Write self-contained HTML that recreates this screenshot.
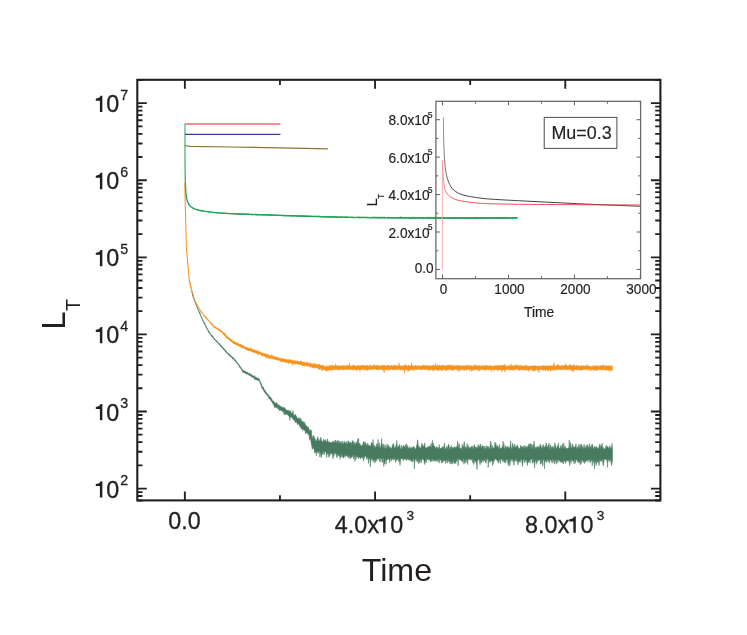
<!DOCTYPE html>
<html><head><meta charset="utf-8"><title>L_T vs Time</title>
<style>html,body{margin:0;padding:0;background:#fff;}svg{display:block;font-family:"Liberation Sans",sans-serif;}text{fill:#231f20;stroke:#231f20;stroke-width:0.3px;stroke-linejoin:round;}.sm text,text.sm{stroke-width:0.18px;}.ns text,text.ns{stroke:none;}svg{will-change:transform;opacity:0.999;}</style></head><body>
<svg width="747" height="635" viewBox="0 0 747 635">
<rect x="0" y="0" width="747" height="635" fill="#ffffff"/>
<path d="M192.6 293.3L193.0 294.7L193.5 296.9L193.9 298.0L194.4 299.1L194.8 300.5L195.3 301.7L195.7 302.7L196.2 304.0L196.6 305.1L197.1 306.5L197.5 307.7L198.0 308.4L198.4 309.5L198.9 310.7L199.3 311.7L199.8 312.2L200.2 313.6L200.7 315.1L201.1 316.1L201.6 317.2L202.0 318.0L202.5 319.2L202.9 319.8L203.4 321.1L203.8 322.0L204.3 322.3L204.7 322.9L205.2 324.3L205.6 325.2L206.1 326.3L206.5 326.4L207.0 327.9L207.4 328.4L207.9 329.5L208.3 330.3L208.8 331.0L209.2 331.5L209.7 332.7L210.1 333.5L210.6 333.6L211.0 334.6L211.5 335.0L211.9 335.4L212.4 335.5L212.8 336.6L213.3 336.8L213.7 337.7L214.2 338.1L214.6 338.7L215.1 339.0L215.5 339.7L216.0 340.2L216.4 340.6L216.9 340.5L217.3 341.4L217.8 342.1L218.2 342.5L218.7 342.9L219.1 343.4L219.6 343.5L220.0 344.1L220.5 345.0L220.9 345.1L221.4 346.1L221.8 346.1L222.3 346.8L222.7 347.2L223.2 347.8L223.6 347.9L224.1 348.8L224.5 349.1L225.0 349.7L225.4 349.9L225.9 350.7L226.3 351.2L226.8 351.8L227.2 352.3L227.7 352.7L228.1 353.1L228.6 353.7L229.0 354.0L229.5 354.1L229.9 354.8L230.4 355.3L230.8 355.5L231.3 356.1L231.7 356.2L232.2 356.8L232.6 357.0L233.1 357.6L233.5 357.7L234.0 358.4L234.4 358.8L234.9 359.5L235.3 359.8L235.8 360.3L236.2 361.3L236.7 361.7L237.1 362.1L237.6 362.7L238.0 363.4L238.5 363.9L238.9 364.7L239.4 365.1L239.8 365.7L240.3 366.7L240.7 367.0L241.2 367.7L241.6 368.5L242.1 369.2L242.5 369.5L243.0 370.2L243.4 370.8L243.9 370.5L244.3 371.1L244.8 371.0L245.2 371.4L245.7 371.6L246.1 371.8L246.6 372.0L247.0 372.0L247.5 372.5L247.9 372.5L248.4 372.9L248.8 373.3L249.3 373.5L249.7 373.5L250.2 373.6L250.6 374.5L251.1 374.8L251.5 374.4L252.0 375.2L252.4 375.3L252.9 375.7L253.3 375.9L253.8 376.3L254.2 376.5L254.7 375.5L255.1 377.1L255.6 377.0L256.0 377.5L256.5 377.6L256.9 377.9L257.4 378.1L257.8 378.3L258.3 378.4L258.7 378.4L259.2 378.7L259.6 379.9L260.1 381.2L260.5 382.3L261.0 383.0L261.4 384.1L261.9 385.8L262.3 386.7L262.8 386.9L263.2 386.8L263.7 388.3L264.1 389.6L264.6 389.7L265.0 390.4L265.5 390.9L265.9 392.1L266.4 392.7L266.8 392.9L267.3 393.8L267.7 394.2L268.2 394.5L268.6 395.3L269.1 395.6L269.5 396.4L270.0 396.7L270.4 396.9L270.9 397.5L271.3 398.7L271.8 398.8L272.2 399.7L272.7 400.8L273.1 401.0L273.6 401.3L274.0 402.1L274.5 402.2L274.9 402.9L275.4 403.1L275.8 403.5L276.3 403.1L276.7 402.5L277.2 404.6L277.6 404.3L278.1 405.1L278.5 404.7L279.0 405.8L279.4 405.1L279.9 406.4L280.3 406.5L280.8 406.1L281.2 407.0L281.7 406.7L282.1 407.8L282.6 407.3L283.0 407.6L283.5 408.1L283.9 406.9L284.4 408.1L284.8 408.0L285.3 409.1L285.7 409.3L286.2 409.8L286.6 410.3L287.1 410.3L287.5 410.6L288.0 409.8L288.4 411.2L288.9 410.9L289.3 410.3L289.8 411.9L290.2 410.9L290.7 410.7L291.1 412.9L291.6 413.0L292.0 413.5L292.5 413.6L292.9 410.5L293.4 413.7L293.8 415.2L294.3 415.4L294.7 415.0L295.2 414.3L295.6 414.7L296.1 415.7L296.5 416.5L297.0 417.8L297.4 418.2L297.9 418.2L298.3 418.6L298.8 417.7L299.2 417.8L299.7 419.6L300.1 420.4L300.6 417.7L301.0 419.4L301.5 420.2L301.9 421.2L302.4 422.4L302.8 421.2L303.3 422.1L303.7 422.9L304.2 421.7L304.6 423.7L305.1 423.3L305.5 424.8L306.0 426.1L306.4 425.8L306.9 425.9L307.3 426.8L307.8 427.6L308.2 426.9L308.7 428.6L309.1 429.7L309.6 430.6L310.0 430.3L310.5 429.6L310.9 432.2L311.4 430.3L311.8 437.6L312.3 436.0L312.7 438.6L313.2 439.0L313.6 435.4L314.1 436.1L314.5 438.5L315.0 438.0L315.4 440.5L315.9 440.9L316.3 441.1L316.8 439.8L317.2 438.9L317.7 436.8L318.1 437.9L318.6 440.8L319.0 441.3L319.5 440.7L319.9 439.2L320.4 438.8L320.8 437.2L321.3 440.6L321.7 440.7L322.2 441.8L322.6 441.5L323.1 441.4L323.5 439.3L324.0 439.7L324.4 440.1L324.9 441.7L325.3 440.8L325.8 439.5L326.2 441.4L326.7 442.3L327.1 441.8L327.6 438.8L328.0 441.1L328.5 442.0L328.9 442.5L329.4 441.6L329.8 443.0L330.3 442.4L330.7 443.1L331.2 442.0L331.6 443.2L332.1 442.5L332.5 441.9L333.0 440.8L333.4 442.3L333.9 442.4L334.3 442.8L334.8 441.1L335.2 440.0L335.7 441.7L336.1 440.7L336.6 443.4L337.0 442.4L337.5 441.8L337.9 440.0L338.4 444.1L338.8 440.9L339.3 441.7L339.7 443.6L340.2 443.1L340.6 441.5L341.1 441.3L341.5 442.8L342.0 444.5L342.4 442.7L342.9 441.1L343.3 444.1L343.8 443.9L344.2 441.7L344.7 441.6L345.1 442.7L345.6 442.9L346.0 443.8L346.5 443.7L346.9 441.0L347.4 444.3L347.8 444.0L348.3 440.7L348.7 442.2L349.2 441.8L349.6 444.3L350.1 442.3L350.5 442.8L351.0 442.0L351.4 444.6L351.9 443.3L352.3 440.5L352.8 442.7L353.2 440.8L353.7 443.4L354.1 445.0L354.6 442.5L355.0 442.4L355.5 445.6L355.9 443.4L356.4 441.7L356.8 443.3L357.3 445.0L357.7 439.1L358.2 445.3L358.6 438.1L359.1 445.7L359.5 443.3L360.0 443.5L360.4 445.4L360.9 445.2L361.3 446.4L361.8 445.3L362.2 444.9L362.7 445.7L363.1 442.8L363.6 441.6L364.0 441.7L364.5 446.0L364.9 441.8L365.4 446.0L365.8 442.9L366.3 446.9L366.7 444.6L367.2 446.5L367.6 443.1L368.1 446.9L368.5 444.8L369.0 444.9L369.4 446.8L369.9 445.3L370.3 446.8L370.8 446.2L371.2 442.7L371.7 442.7L372.1 443.2L372.6 445.7L373.0 439.5L373.5 445.5L373.9 446.4L374.4 445.0L374.8 447.9L375.3 446.6L375.7 448.0L376.2 446.4L376.6 443.6L377.1 446.6L377.5 447.4L378.0 439.4L378.4 445.2L378.9 446.2L379.3 442.9L379.8 447.9L380.2 447.8L380.7 446.6L381.1 445.2L381.6 438.5L382.0 443.5L382.5 444.2L382.9 447.0L383.4 448.4L383.8 443.8L384.3 447.7L384.7 448.5L385.2 444.9L385.6 448.7L386.1 448.6L386.5 448.5L387.0 443.9L387.4 447.7L387.9 446.9L388.3 445.2L388.8 445.0L389.2 447.5L389.7 448.3L390.1 446.7L390.6 448.1L391.0 448.3L391.5 448.3L391.9 448.0L392.4 445.0L392.8 444.2L393.3 444.0L393.7 443.6L394.2 448.0L394.6 448.7L395.1 446.9L395.5 447.8L396.0 445.1L396.4 444.5L396.9 440.4L397.3 447.6L397.8 448.0L398.2 445.9L398.7 446.0L399.1 447.3L399.6 444.1L400.0 445.8L400.5 448.8L400.9 448.9L401.4 449.0L401.8 445.0L402.3 449.0L402.7 447.0L403.2 446.8L403.6 445.2L404.1 446.7L404.5 446.5L405.0 448.1L405.4 444.3L405.9 448.6L406.3 447.3L406.8 443.8L407.2 447.7L407.7 445.7L408.1 448.6L408.6 448.2L409.0 447.7L409.5 447.1L409.9 446.6L410.4 448.8L410.8 448.2L411.3 448.7L411.7 447.2L412.2 447.9L412.6 446.9L413.1 448.6L413.5 446.7L414.0 446.3L414.4 447.9L414.9 448.3L415.3 449.1L415.8 449.1L416.2 447.6L416.7 444.9L417.1 444.6L417.6 439.8L418.0 442.3L418.5 448.1L418.9 446.4L419.4 446.6L419.8 448.1L420.3 448.3L420.7 448.3L421.2 446.4L421.6 443.6L422.1 443.2L422.5 446.0L423.0 447.3L423.4 445.5L423.9 447.4L424.3 444.2L424.8 442.9L425.2 448.6L425.7 447.8L426.1 447.5L426.6 447.9L427.0 447.6L427.5 447.3L427.9 446.6L428.4 449.2L428.8 445.9L429.3 447.3L429.7 445.8L430.2 446.8L430.6 447.8L431.1 443.3L431.5 448.8L432.0 444.6L432.4 440.3L432.9 446.5L433.3 443.4L433.8 445.4L434.2 446.3L434.7 446.1L435.1 447.2L435.6 448.2L436.0 448.5L436.5 446.4L436.9 448.2L437.4 449.3L437.8 447.0L438.3 448.7L438.7 448.9L439.2 444.5L439.6 447.5L440.1 448.8L440.5 448.0L441.0 448.5L441.4 448.8L441.9 447.3L442.3 447.1L442.8 446.7L443.2 449.1L443.7 446.4L444.1 445.5L444.6 443.0L445.0 447.8L445.5 449.4L445.9 448.9L446.4 448.1L446.8 446.3L447.3 447.2L447.7 449.4L448.2 444.3L448.6 444.3L449.1 445.8L449.5 449.5L450.0 449.4L450.4 446.8L450.9 449.1L451.3 445.5L451.8 448.2L452.2 448.8L452.7 447.3L453.1 447.9L453.6 448.4L454.0 446.5L454.5 447.8L454.9 447.0L455.4 447.5L455.8 449.0L456.3 446.2L456.7 448.6L457.2 446.9L457.6 441.0L458.1 447.9L458.5 446.6L459.0 443.4L459.4 445.8L459.9 449.1L460.3 449.0L460.8 448.0L461.2 449.4L461.7 448.4L462.1 444.3L462.6 447.7L463.0 446.3L463.5 448.5L463.9 442.7L464.4 441.7L464.8 448.8L465.3 446.6L465.7 446.9L466.2 448.6L466.6 449.1L467.1 443.6L467.5 445.8L468.0 447.7L468.4 445.6L468.9 449.0L469.3 448.4L469.8 447.0L470.2 448.4L470.7 448.2L471.1 446.7L471.6 447.6L472.0 445.8L472.5 446.8L472.9 448.5L473.4 449.2L473.8 446.2L474.3 444.6L474.7 445.8L475.2 448.7L475.6 447.0L476.1 447.2L476.5 447.3L477.0 448.9L477.4 446.7L477.9 445.8L478.3 444.5L478.8 448.1L479.2 447.3L479.7 446.0L480.1 444.5L480.6 443.9L481.0 447.7L481.5 446.6L481.9 448.6L482.4 445.3L482.8 445.9L483.3 445.9L483.7 448.6L484.2 449.1L484.6 446.4L485.1 446.0L485.5 448.9L486.0 448.5L486.4 448.5L486.9 445.6L487.3 448.6L487.8 446.3L488.2 449.2L488.7 446.6L489.1 449.0L489.6 448.9L490.0 446.3L490.5 442.4L490.9 440.9L491.4 447.9L491.8 448.9L492.3 445.1L492.7 448.7L493.2 447.4L493.6 448.2L494.1 447.8L494.5 447.8L495.0 442.1L495.4 445.7L495.9 443.2L496.3 445.9L496.8 448.1L497.2 445.2L497.7 446.5L498.1 447.2L498.6 449.0L499.0 446.5L499.5 444.5L499.9 449.0L500.4 448.4L500.8 447.8L501.3 448.4L501.7 449.1L502.2 446.2L502.6 448.5L503.1 441.1L503.5 448.8L504.0 443.7L504.4 449.4L504.9 448.1L505.3 447.5L505.8 445.8L506.2 448.4L506.7 448.2L507.1 446.0L507.6 447.5L508.0 447.2L508.5 448.1L508.9 446.8L509.4 448.9L509.8 448.2L510.3 444.5L510.7 440.8L511.2 448.4L511.6 447.9L512.1 449.2L512.5 443.3L513.0 443.8L513.4 448.1L513.9 446.5L514.3 447.5L514.8 443.9L515.2 448.2L515.7 447.3L516.1 445.7L516.6 447.4L517.0 445.5L517.5 445.4L517.9 447.1L518.4 447.4L518.8 449.0L519.3 448.8L519.7 448.3L520.2 448.8L520.6 445.1L521.1 449.1L521.5 446.1L522.0 447.0L522.4 446.7L522.9 446.9L523.3 449.4L523.8 446.4L524.2 445.2L524.7 448.0L525.1 447.2L525.6 446.5L526.0 447.8L526.5 448.5L526.9 445.8L527.4 448.4L527.8 446.5L528.3 446.4L528.7 443.9L529.2 448.8L529.6 445.2L530.1 443.5L530.5 446.4L531.0 443.7L531.4 444.3L531.9 448.8L532.3 448.8L532.8 444.9L533.2 444.2L533.7 448.5L534.1 441.0L534.6 447.9L535.0 449.1L535.5 447.2L535.9 447.2L536.4 448.1L536.8 447.2L537.3 446.1L537.7 448.6L538.2 446.4L538.6 448.7L539.1 446.9L539.5 448.7L540.0 444.1L540.4 446.7L540.9 445.3L541.3 448.1L541.8 449.1L542.2 446.7L542.7 445.9L543.1 444.3L543.6 447.3L544.0 447.3L544.5 447.0L544.9 448.1L545.4 445.0L545.8 445.5L546.3 442.8L546.7 446.7L547.2 446.7L547.6 448.2L548.1 445.2L548.5 445.7L549.0 443.1L549.4 449.3L549.9 449.1L550.3 444.8L550.8 446.1L551.2 446.9L551.7 448.5L552.1 446.8L552.6 448.7L553.0 446.0L553.5 447.6L553.9 448.5L554.4 449.0L554.8 442.8L555.3 445.6L555.7 445.2L556.2 447.9L556.6 449.0L557.1 447.5L557.5 445.7L558.0 446.6L558.4 442.8L558.9 447.6L559.3 447.9L559.8 448.9L560.2 448.6L560.7 445.5L561.1 445.6L561.6 448.9L562.0 447.2L562.5 443.8L562.9 448.2L563.4 448.2L563.8 442.8L564.3 448.9L564.7 448.4L565.2 445.8L565.6 448.3L566.1 448.1L566.5 448.1L567.0 449.3L567.4 448.3L567.9 448.4L568.3 447.7L568.8 448.5L569.2 440.1L569.7 448.4L570.1 446.4L570.6 442.4L571.0 447.4L571.5 447.6L571.9 448.6L572.4 444.1L572.8 444.1L573.3 447.2L573.7 447.3L574.2 446.7L574.6 448.4L575.1 446.5L575.5 446.3L576.0 443.7L576.4 448.6L576.9 447.9L577.3 446.6L577.8 447.9L578.2 448.3L578.7 444.7L579.1 447.2L579.6 449.2L580.0 444.0L580.5 446.9L580.9 448.1L581.4 444.0L581.8 446.8L582.3 448.9L582.7 445.9L583.2 448.9L583.6 448.4L584.1 444.3L584.5 447.3L585.0 449.3L585.4 447.5L585.9 446.5L586.3 445.1L586.8 448.5L587.2 446.0L587.7 444.5L588.1 446.9L588.6 447.4L589.0 448.5L589.5 443.4L589.9 447.6L590.4 448.1L590.8 445.9L591.3 448.9L591.8 444.4L592.2 444.5L592.7 444.5L593.1 449.1L593.6 448.7L594.0 447.6L594.5 446.6L594.9 446.1L595.4 448.8L595.8 447.6L596.3 447.0L596.7 446.5L597.2 447.5L597.6 448.3L598.1 449.0L598.5 448.8L599.0 447.1L599.4 445.4L599.9 443.8L600.3 449.1L600.8 445.6L601.2 445.3L601.7 448.1L602.1 443.2L602.6 448.7L603.0 447.4L603.5 447.7L603.9 449.0L604.4 449.0L604.8 449.1L605.3 448.5L605.7 447.1L606.2 445.3L606.6 447.0L607.1 448.0L607.5 446.5L608.0 446.3L608.4 448.9L608.9 447.8L609.3 447.4L609.8 445.5L610.2 449.3L610.7 447.2L611.1 448.5L611.6 447.4L612.0 443.3L612.5 448.7L612.5 460.2L612.0 463.3L611.6 465.5L611.1 462.8L610.7 459.4L610.2 459.5L609.8 461.8L609.3 459.5L608.9 458.9L608.4 460.7L608.0 459.7L607.5 467.5L607.1 460.0L606.6 460.2L606.2 459.1L605.7 459.7L605.3 458.9L604.8 458.9L604.4 459.0L603.9 461.4L603.5 465.2L603.0 465.7L602.6 460.0L602.1 459.0L601.7 459.7L601.2 461.7L600.8 458.8L600.3 461.3L599.9 459.1L599.4 462.4L599.0 465.8L598.5 460.4L598.1 462.0L597.6 461.3L597.2 462.7L596.7 460.0L596.3 465.4L595.8 459.7L595.4 462.3L594.9 464.0L594.5 468.9L594.0 459.5L593.6 462.5L593.1 459.4L592.7 460.4L592.2 465.8L591.8 459.4L591.3 460.6L590.8 460.2L590.4 462.8L589.9 462.3L589.5 458.7L589.0 460.0L588.6 459.6L588.1 462.0L587.7 460.5L587.2 459.3L586.8 461.1L586.3 460.3L585.9 461.8L585.4 460.2L585.0 462.8L584.5 463.6L584.1 460.0L583.6 462.5L583.2 461.3L582.7 459.3L582.3 461.0L581.8 460.3L581.4 463.4L580.9 459.1L580.5 464.9L580.0 463.5L579.6 462.6L579.1 461.2L578.7 461.0L578.2 462.8L577.8 462.6L577.3 459.4L576.9 460.4L576.4 459.0L576.0 460.3L575.5 463.2L575.1 459.7L574.6 458.8L574.2 464.1L573.7 462.0L573.3 460.8L572.8 461.2L572.4 460.4L571.9 460.6L571.5 458.6L571.0 463.5L570.6 458.6L570.1 461.1L569.7 465.6L569.2 461.5L568.8 461.5L568.3 460.2L567.9 460.3L567.4 461.3L567.0 459.7L566.5 460.8L566.1 461.2L565.6 463.5L565.2 460.9L564.7 461.5L564.3 460.7L563.8 460.0L563.4 464.1L562.9 462.1L562.5 460.9L562.0 462.7L561.6 461.1L561.1 462.4L560.7 461.2L560.2 461.7L559.8 461.1L559.3 460.7L558.9 459.7L558.4 459.1L558.0 462.9L557.5 459.6L557.1 459.4L556.6 462.3L556.2 464.2L555.7 460.4L555.3 460.4L554.8 459.2L554.4 464.2L553.9 461.3L553.5 461.6L553.0 458.7L552.6 459.6L552.1 463.3L551.7 460.0L551.2 461.3L550.8 459.3L550.3 460.2L549.9 459.6L549.4 463.2L549.0 460.0L548.5 459.4L548.1 461.9L547.6 458.9L547.2 460.4L546.7 462.4L546.3 458.8L545.8 462.0L545.4 459.6L544.9 460.1L544.5 468.8L544.0 459.9L543.6 459.8L543.1 460.0L542.7 466.2L542.2 459.5L541.8 459.8L541.3 463.7L540.9 458.7L540.4 464.3L540.0 460.3L539.5 459.3L539.1 460.3L538.6 460.8L538.2 460.5L537.7 458.9L537.3 462.3L536.8 460.8L536.4 464.3L535.9 459.3L535.5 461.3L535.0 460.7L534.6 468.0L534.1 463.5L533.7 458.7L533.2 462.2L532.8 461.0L532.3 463.3L531.9 459.1L531.4 459.0L531.0 459.6L530.5 459.3L530.1 463.2L529.6 460.6L529.2 461.2L528.7 461.6L528.3 462.6L527.8 461.8L527.4 465.6L526.9 462.7L526.5 460.4L526.0 459.2L525.6 460.9L525.1 461.1L524.7 463.0L524.2 458.7L523.8 459.0L523.3 459.9L522.9 463.0L522.4 466.6L522.0 463.1L521.5 459.1L521.1 460.1L520.6 459.3L520.2 462.3L519.7 460.8L519.3 461.3L518.8 462.4L518.4 461.2L517.9 464.9L517.5 459.9L517.0 462.1L516.6 460.3L516.1 458.7L515.7 460.4L515.2 461.2L514.8 459.2L514.3 461.4L513.9 465.6L513.4 460.5L513.0 459.7L512.5 458.7L512.1 461.8L511.6 459.3L511.2 459.5L510.7 459.1L510.3 462.6L509.8 465.9L509.4 459.7L508.9 462.2L508.5 465.6L508.0 463.6L507.6 460.3L507.1 459.6L506.7 459.6L506.2 460.6L505.8 462.8L505.3 458.6L504.9 463.0L504.4 460.7L504.0 461.8L503.5 459.3L503.1 461.4L502.6 461.5L502.2 458.9L501.7 459.1L501.3 459.9L500.8 459.2L500.4 463.5L499.9 461.1L499.5 459.1L499.0 459.0L498.6 463.3L498.1 462.5L497.7 460.4L497.2 461.2L496.8 459.4L496.3 459.9L495.9 459.1L495.4 458.7L495.0 459.6L494.5 460.8L494.1 459.4L493.6 461.7L493.2 463.8L492.7 465.5L492.3 461.8L491.8 460.4L491.4 460.6L490.9 461.0L490.5 462.5L490.0 460.3L489.6 462.0L489.1 459.4L488.7 459.4L488.2 467.6L487.8 458.8L487.3 459.1L486.9 458.8L486.4 460.7L486.0 463.3L485.5 462.4L485.1 459.3L484.6 460.0L484.2 460.7L483.7 458.6L483.3 462.1L482.8 459.3L482.4 460.8L481.9 459.2L481.5 463.0L481.0 462.3L480.6 460.0L480.1 464.8L479.7 462.9L479.2 459.3L478.8 458.7L478.3 460.3L477.9 460.4L477.4 460.6L477.0 469.6L476.5 463.2L476.1 462.5L475.6 461.1L475.2 461.3L474.7 458.9L474.3 462.1L473.8 464.6L473.4 459.8L472.9 463.0L472.5 459.8L472.0 458.8L471.6 459.2L471.1 460.4L470.7 458.9L470.2 459.3L469.8 459.9L469.3 458.9L468.9 459.0L468.4 459.0L468.0 460.0L467.5 464.5L467.1 459.6L466.6 459.6L466.2 461.4L465.7 462.9L465.3 458.8L464.8 461.3L464.4 462.6L463.9 464.3L463.5 459.1L463.0 458.6L462.6 462.4L462.1 460.3L461.7 460.9L461.2 460.9L460.8 459.3L460.3 460.2L459.9 459.0L459.4 460.1L459.0 458.8L458.5 458.7L458.1 466.0L457.6 459.1L457.2 459.0L456.7 461.3L456.3 459.9L455.8 463.6L455.4 462.0L454.9 462.8L454.5 463.9L454.0 458.8L453.6 462.4L453.1 459.5L452.7 463.7L452.2 460.5L451.8 464.3L451.3 459.9L450.9 463.6L450.4 459.5L450.0 463.6L449.5 459.7L449.1 461.6L448.6 461.7L448.2 458.5L447.7 461.4L447.3 463.2L446.8 461.0L446.4 459.2L445.9 459.7L445.5 463.7L445.0 460.7L444.6 460.1L444.1 461.0L443.7 461.5L443.2 459.4L442.8 460.6L442.3 463.2L441.9 459.4L441.4 463.0L441.0 459.4L440.5 459.9L440.1 460.4L439.6 458.5L439.2 463.2L438.7 459.9L438.3 459.6L437.8 461.9L437.4 459.1L436.9 460.0L436.5 460.2L436.0 461.7L435.6 460.6L435.1 460.6L434.7 461.1L434.2 459.2L433.8 461.3L433.3 460.1L432.9 459.1L432.4 459.2L432.0 461.8L431.5 460.8L431.1 459.2L430.6 461.2L430.2 462.1L429.7 458.4L429.3 459.0L428.8 460.4L428.4 458.5L427.9 459.0L427.5 459.8L427.0 458.4L426.6 459.0L426.1 462.9L425.7 461.2L425.2 459.8L424.8 464.6L424.3 463.0L423.9 460.2L423.4 459.6L423.0 459.9L422.5 458.3L422.1 458.4L421.6 460.9L421.2 462.5L420.7 458.8L420.3 460.3L419.8 463.3L419.4 460.4L418.9 459.1L418.5 463.6L418.0 458.3L417.6 462.1L417.1 458.9L416.7 458.7L416.2 461.5L415.8 459.8L415.3 459.5L414.9 458.5L414.4 469.0L414.0 459.3L413.5 458.4L413.1 461.3L412.6 460.1L412.2 462.2L411.7 461.3L411.3 460.1L410.8 459.2L410.4 461.1L409.9 460.6L409.5 458.8L409.0 459.5L408.6 460.1L408.1 458.6L407.7 459.6L407.2 458.3L406.8 460.6L406.3 458.9L405.9 458.8L405.4 458.7L405.0 459.8L404.5 458.5L404.1 459.1L403.6 460.0L403.2 460.8L402.7 458.1L402.3 458.9L401.8 458.7L401.4 458.5L400.9 458.7L400.5 459.7L400.0 465.4L399.6 460.1L399.1 461.9L398.7 461.0L398.2 458.1L397.8 459.2L397.3 459.5L396.9 460.4L396.4 459.7L396.0 459.8L395.5 462.7L395.1 458.1L394.6 459.0L394.2 459.3L393.7 460.3L393.3 458.1L392.8 458.5L392.4 459.5L391.9 458.5L391.5 460.4L391.0 460.9L390.6 458.1L390.1 458.1L389.7 463.0L389.2 459.4L388.8 459.3L388.3 458.4L387.9 459.9L387.4 458.2L387.0 459.9L386.5 458.4L386.1 464.4L385.6 459.0L385.2 460.0L384.7 463.9L384.3 462.3L383.8 466.5L383.4 458.2L382.9 457.9L382.5 462.6L382.0 462.0L381.6 459.2L381.1 458.4L380.7 457.7L380.2 462.1L379.8 461.8L379.3 457.5L378.9 458.8L378.4 459.4L378.0 457.2L377.5 459.4L377.1 457.9L376.6 460.3L376.2 461.2L375.7 461.6L375.3 459.5L374.8 463.0L374.4 458.5L373.9 460.5L373.5 459.3L373.0 461.8L372.6 456.7L372.1 460.0L371.7 459.0L371.2 457.2L370.8 461.3L370.3 466.9L369.9 457.7L369.4 458.8L369.0 457.6L368.5 463.5L368.1 457.2L367.6 457.1L367.2 459.0L366.7 459.5L366.3 456.9L365.8 456.5L365.4 456.2L364.9 456.3L364.5 456.5L364.0 459.3L363.6 461.3L363.1 456.9L362.7 458.3L362.2 456.4L361.8 457.7L361.3 456.2L360.9 458.1L360.4 458.9L360.0 457.4L359.5 457.1L359.1 457.0L358.6 458.8L358.2 457.3L357.7 455.5L357.3 457.5L356.8 456.7L356.4 455.8L355.9 459.5L355.5 455.4L355.0 461.5L354.6 455.5L354.1 455.1L353.7 459.2L353.2 455.0L352.8 454.9L352.3 457.0L351.9 456.9L351.4 457.6L351.0 457.4L350.5 456.8L350.1 459.1L349.6 455.9L349.2 455.5L348.7 458.2L348.3 456.0L347.8 456.3L347.4 457.0L346.9 454.1L346.5 455.4L346.0 456.1L345.6 454.3L345.1 456.8L344.7 454.4L344.2 457.0L343.8 458.3L343.3 457.9L342.9 455.5L342.4 457.2L342.0 454.8L341.5 453.9L341.1 457.1L340.6 454.7L340.2 459.3L339.7 453.2L339.3 456.9L338.8 455.2L338.4 455.7L337.9 455.1L337.5 453.5L337.0 457.7L336.6 456.9L336.1 454.1L335.7 454.3L335.2 452.6L334.8 453.1L334.3 453.4L333.9 456.5L333.4 452.6L333.0 458.9L332.5 455.1L332.1 453.4L331.6 453.8L331.2 452.7L330.7 453.6L330.3 453.3L329.8 456.3L329.4 453.1L328.9 457.4L328.5 453.8L328.0 453.4L327.6 453.8L327.1 454.4L326.7 457.6L326.2 454.1L325.8 451.3L325.3 451.2L324.9 452.0L324.4 454.3L324.0 451.5L323.5 451.6L323.1 454.8L322.6 454.7L322.2 451.8L321.7 453.9L321.3 457.5L320.8 452.5L320.4 453.9L319.9 457.3L319.5 451.4L319.0 450.6L318.6 453.5L318.1 451.6L317.7 450.9L317.2 452.7L316.8 451.3L316.3 455.8L315.9 449.9L315.4 452.8L315.0 449.7L314.5 453.0L314.1 449.2L313.6 448.6L313.2 447.6L312.7 447.5L312.3 449.4L311.8 446.7L311.4 444.4L310.9 441.1L310.5 438.9L310.0 437.4L309.6 440.3L309.1 435.8L308.7 434.6L308.2 434.7L307.8 433.5L307.3 433.3L306.9 433.0L306.4 432.5L306.0 433.0L305.5 434.0L305.1 430.0L304.6 430.5L304.2 430.3L303.7 429.4L303.3 430.1L302.8 430.3L302.4 429.4L301.9 427.9L301.5 428.7L301.0 428.8L300.6 425.6L300.1 427.4L299.7 424.8L299.2 425.7L298.8 424.2L298.3 423.6L297.9 424.3L297.4 424.7L297.0 422.3L296.5 422.4L296.1 421.9L295.6 421.5L295.2 423.1L294.7 420.3L294.3 420.4L293.8 420.2L293.4 419.9L292.9 418.7L292.5 418.3L292.0 418.0L291.6 417.4L291.1 417.3L290.7 416.9L290.2 417.3L289.8 420.4L289.3 416.8L288.9 415.6L288.4 416.1L288.0 415.2L287.5 414.5L287.1 414.8L286.6 413.8L286.2 414.1L285.7 413.6L285.3 415.1L284.8 413.9L284.4 414.5L283.9 413.6L283.5 411.6L283.0 411.3L282.6 411.4L282.1 411.3L281.7 410.7L281.2 410.5L280.8 410.6L280.3 410.4L279.9 409.5L279.4 410.8L279.0 409.0L278.5 409.1L278.1 408.7L277.6 408.6L277.2 407.8L276.7 406.9L276.3 407.2L275.8 407.9L275.4 407.2L274.9 406.3L274.5 407.5L274.0 405.7L273.6 404.3L273.1 404.6L272.7 403.2L272.2 402.7L271.8 401.8L271.3 401.2L270.9 400.7L270.4 399.6L270.0 399.3L269.5 398.8L269.1 398.9L268.6 397.5L268.2 396.6L267.7 396.3L267.3 395.5L266.8 395.0L266.4 394.4L265.9 394.1L265.5 393.3L265.0 393.1L264.6 392.0L264.1 391.7L263.7 390.7L263.2 389.9L262.8 389.3L262.3 388.5L261.9 388.4L261.4 386.6L261.0 385.4L260.5 384.3L260.1 383.0L259.6 381.6L259.2 380.9L258.7 380.8L258.3 380.3L257.8 380.1L257.4 380.5L256.9 379.7L256.5 379.7L256.0 380.1L255.6 379.1L255.1 380.2L254.7 378.5L254.2 378.6L253.8 378.2L253.3 377.6L252.9 377.3L252.4 377.2L252.0 377.1L251.5 377.1L251.1 376.2L250.6 376.1L250.2 375.6L249.7 375.7L249.3 375.1L248.8 375.3L248.4 374.6L247.9 374.3L247.5 374.2L247.0 373.8L246.6 374.1L246.1 373.8L245.7 373.2L245.2 373.5L244.8 372.7L244.3 373.0L243.9 372.4L243.4 372.4L243.0 372.8L242.5 371.5L242.1 370.7L241.6 370.1L241.2 369.1L240.7 368.7L240.3 367.7L239.8 367.7L239.4 366.7L238.9 366.0L238.5 365.3L238.0 364.7L237.6 364.2L237.1 363.5L236.7 363.1L236.2 362.5L235.8 362.0L235.3 361.3L234.9 360.9L234.4 360.0L234.0 359.7L233.5 359.4L233.1 358.7L232.6 359.0L232.2 358.3L231.7 357.5L231.3 357.2L230.8 356.7L230.4 357.0L229.9 355.8L229.5 356.1L229.0 355.2L228.6 354.7L228.1 354.8L227.7 353.7L227.2 353.3L226.8 353.4L226.3 352.5L225.9 352.0L225.4 351.8L225.0 351.2L224.5 350.5L224.1 350.1L223.6 349.6L223.2 349.4L222.7 348.5L222.3 348.1L221.8 347.6L221.4 347.1L220.9 346.6L220.5 346.3L220.0 345.5L219.6 345.1L219.1 344.7L218.7 344.1L218.2 343.6L217.8 343.2L217.3 342.7L216.9 342.1L216.4 341.8L216.0 341.2L215.5 340.7L215.1 340.3L214.6 339.8L214.2 339.5L213.7 338.7L213.3 338.3L212.8 337.7L212.4 337.0L211.9 337.1L211.5 336.0L211.0 335.6L210.6 334.9L210.1 334.6L209.7 333.7L209.2 332.9L208.8 332.4L208.3 332.3L207.9 330.4L207.4 330.0L207.0 329.0L206.5 328.2L206.1 327.4L205.6 326.6L205.2 325.8L204.7 324.8L204.3 324.0L203.8 322.9L203.4 322.1L202.9 321.5L202.5 320.3L202.0 319.2L201.6 318.3L201.1 317.1L200.7 316.0L200.2 314.9L199.8 313.9L199.3 312.9L198.9 311.8L198.4 310.7L198.0 309.8L197.5 308.7L197.1 307.7L196.6 306.2L196.2 305.2L195.7 304.0L195.3 302.7L194.8 301.5L194.4 300.8L193.9 299.1L193.5 297.8L193.0 296.4L192.6 294.3Z" fill="#477a5f" stroke="#477a5f" stroke-width="0.5" stroke-linejoin="round"/>
<path d="M191.6 291L193.4 297.1" fill="none" stroke="#477a5f" stroke-width="0.9"/>
<path d="M190.0 282.5L190.5 284.2L191.0 286.3L191.5 288.5L192.0 290.2L192.5 292.4L193.0 294.2L193.5 296.4L194.0 298.5L194.5 299.6L195.0 300.6L195.5 301.4L196.0 302.2L196.5 303.2L197.0 303.9L197.5 305.0L198.0 306.0L198.5 306.9L199.0 307.5L199.5 308.3L200.0 309.5L200.5 310.1L201.0 310.6L201.5 311.5L202.0 311.7L202.5 312.8L203.0 313.4L203.5 314.3L204.0 314.9L204.5 315.5L205.0 315.6L205.5 316.6L206.0 317.0L206.5 317.4L207.0 318.0L207.5 318.7L208.0 319.2L208.5 319.8L209.0 320.4L209.5 320.7L210.0 321.4L210.5 321.9L211.0 322.6L211.5 323.1L212.0 323.3L212.5 324.1L213.0 325.0L213.5 325.6L214.0 326.1L214.5 326.2L215.0 326.6L215.5 327.0L216.0 326.8L216.5 327.4L217.0 327.9L217.5 327.9L218.0 328.5L218.5 328.8L219.0 329.2L219.5 329.2L220.0 329.8L220.5 329.9L221.0 330.0L221.5 330.9L222.0 331.2L222.5 331.9L223.0 332.4L223.5 332.9L224.0 332.8L224.5 333.8L225.0 332.9L225.5 334.6L226.0 335.0L226.5 335.6L227.0 336.1L227.5 336.8L228.0 337.3L228.5 337.2L229.0 338.1L229.5 338.1L230.0 338.6L230.5 338.9L231.0 339.0L231.5 340.0L232.0 340.1L232.5 340.6L233.0 341.0L233.5 341.4L234.0 340.8L234.5 341.5L235.0 342.2L235.5 342.4L236.0 342.0L236.5 342.6L237.0 342.4L237.5 343.1L238.0 343.4L238.5 343.5L239.0 343.9L239.5 344.2L240.0 344.3L240.5 343.7L241.0 344.3L241.5 345.0L242.0 345.4L242.5 345.6L243.0 345.1L243.5 346.1L244.0 346.3L244.5 346.8L245.0 346.8L245.5 347.1L246.0 347.3L246.5 347.1L247.0 347.8L247.5 347.4L248.0 348.0L248.5 348.1L249.0 348.2L249.5 348.6L250.0 348.6L250.5 348.7L251.0 347.2L251.5 349.1L252.0 349.2L252.5 349.6L253.0 349.4L253.5 349.8L254.0 349.2L254.5 349.4L255.0 350.0L255.5 350.5L256.0 350.4L256.5 350.8L257.0 351.0L257.5 350.2L258.0 350.8L258.5 351.4L259.0 351.8L259.5 351.8L260.0 352.0L260.5 352.2L261.0 351.6L261.5 352.7L262.0 352.9L262.5 353.0L263.0 352.6L263.5 353.3L264.0 353.4L264.5 353.8L265.0 353.4L265.5 354.1L266.0 353.9L266.5 353.6L267.0 354.1L267.5 354.5L268.0 354.9L268.5 354.5L269.0 354.8L269.5 355.4L270.0 355.6L270.5 355.7L271.0 355.9L271.5 354.4L272.0 355.9L272.5 356.2L273.0 354.9L273.5 356.6L274.0 356.3L274.5 356.7L275.0 356.4L275.5 357.0L276.0 356.8L276.5 357.3L277.0 356.8L277.5 357.1L278.0 357.7L278.5 357.9L279.0 358.1L279.5 357.8L280.0 358.3L280.5 358.3L281.0 357.9L281.5 358.8L282.0 358.9L282.5 359.1L283.0 358.1L283.5 359.1L284.0 358.8L284.5 358.9L285.0 359.1L285.5 359.7L286.0 358.8L286.5 359.7L287.0 359.8L287.5 359.4L288.0 359.8L288.5 358.9L289.0 360.2L289.5 360.0L290.0 360.1L290.5 360.2L291.0 359.2L291.5 360.4L292.0 360.3L292.5 360.3L293.0 360.2L293.5 360.9L294.0 360.5L294.5 360.6L295.0 360.4L295.5 361.0L296.0 361.0L296.5 361.4L297.0 360.9L297.5 360.2L298.0 361.4L298.5 361.7L299.0 361.2L299.5 361.7L300.0 360.9L300.5 361.6L301.0 360.9L301.5 361.0L302.0 362.2L302.5 361.6L303.0 362.2L303.5 362.3L304.0 361.8L304.5 362.0L305.0 362.6L305.5 362.7L306.0 362.9L306.5 362.4L307.0 361.8L307.5 362.0L308.0 363.0L308.5 363.4L309.0 363.4L309.5 363.2L310.0 362.1L310.5 363.5L311.0 363.6L311.5 363.7L312.0 363.7L312.5 363.9L313.0 364.2L313.5 363.6L314.0 363.4L314.5 363.4L315.0 364.6L315.5 363.6L316.0 364.7L316.5 364.1L317.0 364.9L317.5 364.3L318.0 364.5L318.5 364.1L319.0 365.0L319.5 364.3L320.0 364.5L320.5 365.4L321.0 365.6L321.5 365.1L322.0 366.2L322.5 364.8L323.0 364.9L323.5 365.3L324.0 366.6L324.5 366.4L325.0 366.5L325.5 366.4L326.0 367.1L326.5 365.8L327.0 365.3L327.5 366.9L328.0 366.7L328.5 366.6L329.0 365.3L329.5 366.3L330.0 365.1L330.5 366.3L331.0 365.9L331.5 365.5L332.0 365.1L332.5 364.7L333.0 366.2L333.5 365.7L334.0 365.3L334.5 366.0L335.0 365.9L335.5 363.8L336.0 365.6L336.5 365.8L337.0 365.7L337.5 365.2L338.0 366.1L338.5 366.1L339.0 366.2L339.5 365.5L340.0 365.8L340.5 365.8L341.0 366.0L341.5 365.8L342.0 365.8L342.5 365.9L343.0 365.5L343.5 365.3L344.0 366.1L344.5 365.8L345.0 366.1L345.5 366.1L346.0 365.9L346.5 365.2L347.0 365.3L347.5 365.4L348.0 365.7L348.5 364.9L349.0 365.8L349.5 362.6L350.0 365.7L350.5 366.1L351.0 366.0L351.5 365.8L352.0 365.9L352.5 365.6L353.0 365.2L353.5 365.0L354.0 365.1L354.5 365.9L355.0 365.5L355.5 366.0L356.0 365.9L356.5 366.0L357.0 366.2L357.5 366.0L358.0 364.9L358.5 365.8L359.0 366.1L359.5 365.5L360.0 366.2L360.5 365.0L361.0 366.1L361.5 366.1L362.0 365.0L362.5 365.6L363.0 365.7L363.5 364.8L364.0 365.6L364.5 365.9L365.0 365.4L365.5 366.1L366.0 365.6L366.5 365.0L367.0 365.7L367.5 365.3L368.0 365.5L368.5 366.0L369.0 365.9L369.5 365.8L370.0 364.8L370.5 366.1L371.0 365.8L371.5 365.7L372.0 365.7L372.5 365.9L373.0 365.9L373.5 365.4L374.0 364.0L374.5 365.5L375.0 365.7L375.5 365.6L376.0 365.9L376.5 365.9L377.0 364.5L377.5 365.6L378.0 365.7L378.5 365.8L379.0 365.1L379.5 365.7L380.0 366.0L380.5 365.9L381.0 365.8L381.5 365.8L382.0 365.2L382.5 364.8L383.0 365.7L383.5 366.0L384.0 365.0L384.5 365.6L385.0 364.9L385.5 365.9L386.0 365.5L386.5 365.9L387.0 365.9L387.5 365.4L388.0 364.9L388.5 364.7L389.0 365.9L389.5 366.0L390.0 366.0L390.5 366.0L391.0 365.5L391.5 364.9L392.0 365.9L392.5 365.8L393.0 365.5L393.5 365.8L394.0 365.7L394.5 365.5L395.0 364.8L395.5 365.2L396.0 366.1L396.5 365.6L397.0 365.7L397.5 365.8L398.0 365.9L398.5 365.9L399.0 362.6L399.5 364.9L400.0 366.0L400.5 366.1L401.0 366.0L401.5 365.7L402.0 365.4L402.5 365.7L403.0 366.2L403.5 365.9L404.0 365.5L404.5 365.8L405.0 364.7L405.5 364.5L406.0 365.0L406.5 365.9L407.0 365.7L407.5 366.2L408.0 365.2L408.5 365.2L409.0 365.9L409.5 365.5L410.0 365.8L410.5 365.9L411.0 364.9L411.5 362.9L412.0 365.9L412.5 365.6L413.0 365.6L413.5 365.8L414.0 366.2L414.5 365.9L415.0 366.2L415.5 364.7L416.0 366.1L416.5 365.9L417.0 365.9L417.5 365.5L418.0 365.8L418.5 365.8L419.0 365.9L419.5 366.1L420.0 365.5L420.5 366.0L421.0 366.1L421.5 365.7L422.0 366.1L422.5 365.7L423.0 365.0L423.5 365.8L424.0 364.4L424.5 365.9L425.0 365.9L425.5 366.0L426.0 365.1L426.5 365.6L427.0 365.8L427.5 365.6L428.0 365.8L428.5 365.5L429.0 365.4L429.5 366.2L430.0 365.8L430.5 366.0L431.0 365.6L431.5 365.8L432.0 365.6L432.5 365.5L433.0 366.2L433.5 364.7L434.0 366.0L434.5 365.5L435.0 365.5L435.5 363.5L436.0 365.9L436.5 365.7L437.0 366.0L437.5 364.8L438.0 365.5L438.5 365.7L439.0 365.3L439.5 365.0L440.0 365.2L440.5 366.0L441.0 365.3L441.5 366.0L442.0 366.1L442.5 364.6L443.0 366.1L443.5 365.5L444.0 365.8L444.5 366.2L445.0 365.0L445.5 365.7L446.0 366.2L446.5 365.6L447.0 366.1L447.5 365.0L448.0 364.8L448.5 365.0L449.0 365.6L449.5 365.8L450.0 364.7L450.5 365.4L451.0 365.2L451.5 365.1L452.0 366.1L452.5 366.1L453.0 366.0L453.5 364.6L454.0 366.3L454.5 366.1L455.0 366.2L455.5 365.9L456.0 364.6L456.5 366.1L457.0 365.9L457.5 365.4L458.0 365.0L458.5 366.1L459.0 365.3L459.5 365.4L460.0 365.7L460.5 366.3L461.0 365.9L461.5 365.3L462.0 365.8L462.5 366.1L463.0 366.0L463.5 365.3L464.0 365.5L464.5 365.6L465.0 366.0L465.5 365.8L466.0 366.3L466.5 365.6L467.0 364.7L467.5 365.9L468.0 365.0L468.5 365.4L469.0 365.7L469.5 366.2L470.0 365.7L470.5 364.9L471.0 365.9L471.5 365.8L472.0 366.0L472.5 366.3L473.0 365.9L473.5 366.2L474.0 364.9L474.5 366.1L475.0 364.2L475.5 365.9L476.0 365.5L476.5 365.5L477.0 366.3L477.5 366.0L478.0 365.4L478.5 365.7L479.0 366.0L479.5 364.9L480.0 365.9L480.5 366.1L481.0 366.2L481.5 365.9L482.0 365.2L482.5 365.8L483.0 365.5L483.5 366.2L484.0 366.0L484.5 365.0L485.0 366.2L485.5 365.3L486.0 366.1L486.5 365.0L487.0 365.7L487.5 365.8L488.0 366.1L488.5 366.1L489.0 365.6L489.5 366.3L490.0 365.8L490.5 365.0L491.0 366.0L491.5 366.2L492.0 366.1L492.5 366.3L493.0 366.2L493.5 366.1L494.0 366.0L494.5 365.4L495.0 365.7L495.5 366.1L496.0 365.2L496.5 366.0L497.0 366.0L497.5 365.2L498.0 365.8L498.5 365.4L499.0 366.1L499.5 365.9L500.0 364.7L500.5 366.0L501.0 366.3L501.5 365.3L502.0 366.0L502.5 365.3L503.0 364.9L503.5 365.6L504.0 364.5L504.5 364.0L505.0 365.2L505.5 366.3L506.0 366.3L506.5 365.8L507.0 366.3L507.5 366.0L508.0 366.3L508.5 365.9L509.0 365.3L509.5 366.3L510.0 365.6L510.5 366.3L511.0 363.6L511.5 365.5L512.0 366.0L512.5 365.2L513.0 365.7L513.5 366.3L514.0 365.6L514.5 365.4L515.0 365.1L515.5 365.6L516.0 365.9L516.5 364.3L517.0 365.4L517.5 364.8L518.0 365.7L518.5 366.1L519.0 366.1L519.5 365.9L520.0 364.5L520.5 366.2L521.0 366.0L521.5 365.4L522.0 365.8L522.5 366.0L523.0 366.0L523.5 366.2L524.0 365.9L524.5 365.6L525.0 365.9L525.5 365.6L526.0 366.2L526.5 364.8L527.0 366.0L527.5 366.3L528.0 366.1L528.5 366.4L529.0 365.9L529.5 365.6L530.0 366.2L530.5 366.3L531.0 365.8L531.5 365.7L532.0 366.2L532.5 365.9L533.0 365.9L533.5 365.9L534.0 365.1L534.5 366.3L535.0 365.4L535.5 365.9L536.0 366.1L536.5 366.2L537.0 366.1L537.5 365.8L538.0 365.7L538.5 366.3L539.0 366.2L539.5 365.7L540.0 366.3L540.5 366.3L541.0 366.0L541.5 366.1L542.0 365.7L542.5 366.3L543.0 365.2L543.5 366.2L544.0 365.1L544.5 366.0L545.0 365.9L545.5 366.3L546.0 365.6L546.5 366.0L547.0 365.9L547.5 365.5L548.0 366.2L548.5 366.0L549.0 365.4L549.5 366.1L550.0 365.7L550.5 365.8L551.0 366.3L551.5 365.9L552.0 365.7L552.5 366.2L553.0 365.0L553.5 366.1L554.0 362.4L554.5 364.9L555.0 366.1L555.5 366.3L556.0 365.8L556.5 364.9L557.0 365.8L557.5 364.5L558.0 366.1L558.5 364.4L559.0 365.7L559.5 365.8L560.0 365.9L560.5 366.2L561.0 365.6L561.5 365.4L562.0 365.9L562.5 365.2L563.0 366.1L563.5 365.8L564.0 365.4L564.5 365.2L565.0 365.8L565.5 363.6L566.0 365.7L566.5 364.9L567.0 365.6L567.5 365.7L568.0 366.2L568.5 366.2L569.0 365.0L569.5 364.7L570.0 364.2L570.5 366.0L571.0 364.7L571.5 365.4L572.0 365.5L572.5 366.3L573.0 365.4L573.5 364.8L574.0 364.6L574.5 366.3L575.0 365.7L575.5 366.0L576.0 366.3L576.5 364.8L577.0 366.1L577.5 366.4L578.0 365.8L578.5 364.9L579.0 366.2L579.5 366.4L580.0 365.7L580.5 366.2L581.0 366.1L581.5 365.2L582.0 365.5L582.5 365.9L583.0 365.7L583.5 365.8L584.0 366.2L584.5 366.3L585.0 365.6L585.5 364.9L586.0 366.3L586.5 366.0L587.0 366.3L587.5 364.5L588.0 365.6L588.5 365.9L589.0 366.1L589.5 365.9L590.0 366.4L590.5 366.3L591.0 366.2L591.5 366.4L592.0 366.2L592.5 365.5L593.0 366.4L593.5 366.0L594.0 366.4L594.5 366.1L595.0 365.3L595.5 366.1L596.0 366.3L596.5 365.5L597.0 366.2L597.5 366.1L598.0 365.5L598.5 366.4L599.0 366.2L599.5 366.3L600.0 365.5L600.5 366.1L601.0 365.0L601.5 365.9L602.0 366.1L602.5 365.5L603.0 365.6L603.5 364.3L604.0 366.2L604.5 366.2L605.0 366.1L605.5 365.4L606.0 365.3L606.5 366.3L607.0 365.7L607.5 366.2L608.0 365.5L608.5 366.3L609.0 365.5L609.5 366.4L610.0 365.7L610.5 365.2L611.0 366.2L611.5 366.4L612.0 366.3L612.5 365.6L612.5 369.4L612.0 370.7L611.5 369.9L611.0 370.4L610.5 371.3L610.0 369.6L609.5 370.4L609.0 369.8L608.5 370.6L608.0 370.6L607.5 369.8L607.0 370.4L606.5 370.4L606.0 370.1L605.5 369.8L605.0 370.0L604.5 369.7L604.0 369.5L603.5 369.5L603.0 370.1L602.5 369.3L602.0 370.7L601.5 369.3L601.0 369.5L600.5 370.0L600.0 369.7L599.5 370.0L599.0 369.6L598.5 369.3L598.0 369.8L597.5 370.2L597.0 369.9L596.5 370.6L596.0 370.3L595.5 370.5L595.0 369.7L594.5 369.5L594.0 370.3L593.5 370.9L593.0 370.0L592.5 369.3L592.0 369.3L591.5 369.9L591.0 371.1L590.5 370.7L590.0 369.3L589.5 369.4L589.0 369.3L588.5 370.6L588.0 369.3L587.5 370.2L587.0 369.3L586.5 369.8L586.0 369.5L585.5 370.1L585.0 369.4L584.5 369.6L584.0 369.3L583.5 369.3L583.0 370.0L582.5 369.9L582.0 369.5L581.5 370.8L581.0 370.1L580.5 370.0L580.0 369.6L579.5 370.5L579.0 369.8L578.5 369.8L578.0 369.8L577.5 370.2L577.0 369.9L576.5 369.8L576.0 369.8L575.5 370.0L575.0 369.3L574.5 369.6L574.0 370.4L573.5 369.7L573.0 372.3L572.5 369.7L572.0 370.1L571.5 370.7L571.0 370.7L570.5 370.0L570.0 369.5L569.5 369.6L569.0 369.3L568.5 370.0L568.0 369.6L567.5 370.0L567.0 369.4L566.5 369.8L566.0 369.6L565.5 369.4L565.0 369.7L564.5 369.6L564.0 369.5L563.5 369.7L563.0 369.5L562.5 369.3L562.0 369.3L561.5 370.5L561.0 369.5L560.5 370.1L560.0 369.6L559.5 369.4L559.0 369.8L558.5 370.3L558.0 369.5L557.5 369.6L557.0 369.5L556.5 370.1L556.0 369.6L555.5 369.5L555.0 370.7L554.5 369.4L554.0 369.6L553.5 370.0L553.0 369.4L552.5 370.4L552.0 369.8L551.5 370.1L551.0 369.7L550.5 371.5L550.0 370.2L549.5 369.4L549.0 369.4L548.5 371.4L548.0 370.9L547.5 370.3L547.0 369.7L546.5 369.8L546.0 370.5L545.5 370.5L545.0 370.8L544.5 369.3L544.0 370.2L543.5 370.2L543.0 370.6L542.5 369.6L542.0 369.9L541.5 369.6L541.0 369.5L540.5 369.6L540.0 369.7L539.5 369.3L539.0 372.8L538.5 370.2L538.0 370.7L537.5 370.2L537.0 370.0L536.5 369.3L536.0 369.8L535.5 370.6L535.0 370.5L534.5 370.8L534.0 371.7L533.5 370.2L533.0 369.4L532.5 370.8L532.0 369.9L531.5 369.5L531.0 369.5L530.5 369.3L530.0 369.7L529.5 370.2L529.0 369.7L528.5 371.4L528.0 370.9L527.5 370.0L527.0 369.6L526.5 369.9L526.0 370.6L525.5 369.8L525.0 369.4L524.5 370.3L524.0 370.2L523.5 369.9L523.0 370.0L522.5 369.6L522.0 369.5L521.5 369.7L521.0 370.3L520.5 369.4L520.0 370.5L519.5 370.7L519.0 370.1L518.5 369.7L518.0 369.4L517.5 369.4L517.0 369.6L516.5 369.3L516.0 369.8L515.5 369.6L515.0 369.3L514.5 369.8L514.0 370.3L513.5 369.6L513.0 370.5L512.5 370.0L512.0 370.4L511.5 370.1L511.0 369.8L510.5 369.4L510.0 369.8L509.5 370.1L509.0 370.4L508.5 369.2L508.0 369.4L507.5 369.2L507.0 369.2L506.5 370.1L506.0 369.7L505.5 369.4L505.0 372.2L504.5 370.3L504.0 369.9L503.5 370.1L503.0 370.1L502.5 370.1L502.0 372.1L501.5 370.0L501.0 370.3L500.5 369.3L500.0 369.6L499.5 369.9L499.0 370.5L498.5 369.8L498.0 370.0L497.5 370.3L497.0 370.2L496.5 369.8L496.0 369.5L495.5 369.4L495.0 369.3L494.5 370.7L494.0 370.1L493.5 369.7L493.0 369.6L492.5 369.3L492.0 371.9L491.5 369.2L491.0 370.1L490.5 370.4L490.0 369.5L489.5 369.6L489.0 370.2L488.5 369.8L488.0 370.1L487.5 369.8L487.0 369.2L486.5 369.5L486.0 370.2L485.5 370.1L485.0 370.5L484.5 369.8L484.0 370.4L483.5 369.8L483.0 369.3L482.5 369.6L482.0 369.4L481.5 369.8L481.0 369.9L480.5 369.6L480.0 369.6L479.5 371.4L479.0 369.8L478.5 370.2L478.0 369.7L477.5 370.8L477.0 369.4L476.5 369.2L476.0 369.4L475.5 369.4L475.0 369.9L474.5 369.4L474.0 370.4L473.5 369.9L473.0 370.4L472.5 370.1L472.0 369.9L471.5 371.7L471.0 369.3L470.5 370.1L470.0 369.2L469.5 370.9L469.0 369.6L468.5 369.2L468.0 369.2L467.5 369.6L467.0 370.0L466.5 370.0L466.0 369.7L465.5 369.7L465.0 370.5L464.5 369.3L464.0 370.5L463.5 369.8L463.0 369.5L462.5 369.6L462.0 369.5L461.5 370.1L461.0 369.5L460.5 370.1L460.0 370.6L459.5 370.7L459.0 370.3L458.5 369.5L458.0 371.7L457.5 370.3L457.0 369.4L456.5 369.5L456.0 369.7L455.5 369.3L455.0 369.2L454.5 369.6L454.0 370.1L453.5 370.2L453.0 370.1L452.5 369.7L452.0 370.9L451.5 370.2L451.0 369.4L450.5 369.3L450.0 369.9L449.5 369.6L449.0 369.5L448.5 369.9L448.0 369.6L447.5 370.1L447.0 370.5L446.5 369.8L446.0 370.2L445.5 370.9L445.0 369.8L444.5 369.2L444.0 370.1L443.5 369.2L443.0 370.2L442.5 370.2L442.0 370.5L441.5 370.2L441.0 370.8L440.5 369.4L440.0 370.1L439.5 369.5L439.0 370.7L438.5 370.2L438.0 370.7L437.5 370.2L437.0 370.1L436.5 369.3L436.0 370.1L435.5 370.2L435.0 369.3L434.5 369.6L434.0 369.7L433.5 371.5L433.0 369.2L432.5 370.5L432.0 370.2L431.5 369.4L431.0 370.1L430.5 369.8L430.0 369.6L429.5 370.4L429.0 369.2L428.5 370.9L428.0 369.8L427.5 369.5L427.0 369.3L426.5 369.7L426.0 369.4L425.5 369.7L425.0 370.0L424.5 369.5L424.0 369.2L423.5 369.5L423.0 369.2L422.5 369.1L422.0 370.2L421.5 369.4L421.0 369.7L420.5 369.3L420.0 369.4L419.5 369.3L419.0 369.8L418.5 369.4L418.0 369.2L417.5 369.2L417.0 369.3L416.5 370.1L416.0 369.2L415.5 369.7L415.0 369.6L414.5 369.5L414.0 370.8L413.5 370.1L413.0 369.7L412.5 369.8L412.0 369.8L411.5 369.9L411.0 369.5L410.5 369.7L410.0 370.0L409.5 371.0L409.0 370.3L408.5 370.2L408.0 371.8L407.5 370.1L407.0 369.9L406.5 369.8L406.0 369.6L405.5 369.9L405.0 370.1L404.5 373.4L404.0 369.1L403.5 370.3L403.0 369.8L402.5 369.4L402.0 370.4L401.5 369.9L401.0 369.1L400.5 370.1L400.0 370.4L399.5 369.4L399.0 369.1L398.5 369.9L398.0 369.4L397.5 369.1L397.0 369.2L396.5 370.4L396.0 369.7L395.5 369.4L395.0 369.1L394.5 369.8L394.0 369.4L393.5 370.3L393.0 369.5L392.5 369.8L392.0 369.5L391.5 369.3L391.0 369.3L390.5 369.8L390.0 370.3L389.5 369.9L389.0 369.4L388.5 370.0L388.0 369.7L387.5 369.1L387.0 370.8L386.5 369.4L386.0 369.2L385.5 369.5L385.0 369.6L384.5 372.5L384.0 369.3L383.5 371.6L383.0 369.7L382.5 369.6L382.0 370.0L381.5 369.6L381.0 369.2L380.5 369.4L380.0 369.6L379.5 369.2L379.0 369.4L378.5 370.2L378.0 369.4L377.5 370.0L377.0 370.0L376.5 369.7L376.0 369.3L375.5 369.3L375.0 369.6L374.5 369.1L374.0 369.3L373.5 369.4L373.0 369.1L372.5 369.1L372.0 369.4L371.5 369.9L371.0 369.4L370.5 369.9L370.0 369.4L369.5 369.5L369.0 369.3L368.5 369.7L368.0 369.9L367.5 370.3L367.0 370.5L366.5 369.2L366.0 370.1L365.5 369.1L365.0 370.6L364.5 369.3L364.0 369.6L363.5 369.8L363.0 369.1L362.5 369.7L362.0 369.2L361.5 370.0L361.0 369.8L360.5 369.2L360.0 371.6L359.5 370.0L359.0 369.6L358.5 369.6L358.0 369.2L357.5 369.8L357.0 370.8L356.5 370.3L356.0 369.5L355.5 370.0L355.0 369.7L354.5 369.9L354.0 369.3L353.5 369.8L353.0 370.3L352.5 369.6L352.0 369.4L351.5 369.0L351.0 369.7L350.5 369.8L350.0 369.5L349.5 370.0L349.0 369.1L348.5 369.6L348.0 369.8L347.5 369.6L347.0 369.5L346.5 369.7L346.0 369.6L345.5 369.4L345.0 369.1L344.5 369.8L344.0 370.3L343.5 369.4L343.0 370.0L342.5 370.1L342.0 369.6L341.5 369.9L341.0 369.3L340.5 369.3L340.0 369.8L339.5 370.2L339.0 369.4L338.5 370.4L338.0 369.1L337.5 369.1L337.0 370.0L336.5 369.5L336.0 370.2L335.5 369.3L335.0 369.8L334.5 369.2L334.0 369.9L333.5 369.9L333.0 369.5L332.5 370.1L332.0 370.3L331.5 369.4L331.0 371.1L330.5 369.5L330.0 369.6L329.5 370.0L329.0 370.1L328.5 370.4L328.0 370.9L327.5 370.0L327.0 370.9L326.5 371.4L326.0 371.0L325.5 369.9L325.0 370.0L324.5 369.8L324.0 370.3L323.5 370.0L323.0 369.5L322.5 370.4L322.0 370.6L321.5 370.3L321.0 369.0L320.5 368.7L320.0 368.6L319.5 370.0L319.0 369.5L318.5 368.3L318.0 368.7L317.5 368.0L317.0 368.4L316.5 367.5L316.0 368.1L315.5 367.3L315.0 368.3L314.5 368.0L314.0 367.6L313.5 367.4L313.0 367.2L312.5 368.2L312.0 366.8L311.5 367.0L311.0 367.5L310.5 366.8L310.0 366.6L309.5 366.8L309.0 365.9L308.5 365.9L308.0 365.9L307.5 366.6L307.0 365.9L306.5 365.5L306.0 365.5L305.5 365.5L305.0 366.8L304.5 365.1L304.0 365.5L303.5 365.0L303.0 366.0L302.5 365.3L302.0 365.7L301.5 365.2L301.0 365.1L300.5 364.4L300.0 364.6L299.5 364.7L299.0 364.4L298.5 364.5L298.0 364.3L297.5 364.0L297.0 363.7L296.5 363.7L296.0 363.7L295.5 363.9L295.0 364.2L294.5 364.1L294.0 363.5L293.5 363.6L293.0 365.5L292.5 363.2L292.0 364.3L291.5 363.0L291.0 362.8L290.5 363.2L290.0 362.7L289.5 362.8L289.0 362.8L288.5 363.8L288.0 363.0L287.5 362.3L287.0 363.1L286.5 362.9L286.0 362.6L285.5 362.2L285.0 361.7L284.5 362.0L284.0 361.9L283.5 361.6L283.0 362.2L282.5 361.3L282.0 362.2L281.5 361.3L281.0 361.9L280.5 361.3L280.0 361.0L279.5 360.6L279.0 360.6L278.5 360.6L278.0 360.1L277.5 360.0L277.0 359.9L276.5 359.9L276.0 359.5L275.5 359.4L275.0 359.7L274.5 359.8L274.0 359.0L273.5 358.9L273.0 358.9L272.5 358.8L272.0 358.5L271.5 358.9L271.0 358.3L270.5 358.4L270.0 358.0L269.5 358.0L269.0 359.0L268.5 357.8L268.0 358.2L267.5 357.2L267.0 357.5L266.5 357.2L266.0 358.5L265.5 356.6L265.0 356.8L264.5 356.2L264.0 355.7L263.5 356.3L263.0 355.4L262.5 356.2L262.0 356.3L261.5 355.2L261.0 354.7L260.5 354.5L260.0 354.2L259.5 354.1L259.0 354.0L258.5 353.8L258.0 355.2L257.5 353.8L257.0 354.0L256.5 353.2L256.0 353.0L255.5 353.2L255.0 352.8L254.5 352.7L254.0 352.2L253.5 352.3L253.0 352.4L252.5 351.8L252.0 351.6L251.5 351.9L251.0 351.2L250.5 351.1L250.0 350.9L249.5 350.7L249.0 351.1L248.5 351.0L248.0 350.5L247.5 350.1L247.0 350.1L246.5 350.0L246.0 349.4L245.5 349.6L245.0 348.9L244.5 348.6L244.0 348.4L243.5 348.3L243.0 348.0L242.5 348.2L242.0 348.1L241.5 347.6L241.0 347.7L240.5 347.1L240.0 346.5L239.5 346.2L239.0 346.2L238.5 346.2L238.0 345.5L237.5 345.2L237.0 345.0L236.5 345.2L236.0 345.1L235.5 344.2L235.0 344.1L234.5 343.9L234.0 344.0L233.5 343.7L233.0 343.4L232.5 342.8L232.0 342.1L231.5 341.7L231.0 342.0L230.5 340.9L230.0 340.5L229.5 340.4L229.0 339.8L228.5 339.3L228.0 338.8L227.5 338.4L227.0 338.0L226.5 339.0L226.0 337.0L225.5 336.6L225.0 336.3L224.5 336.0L224.0 335.0L223.5 334.6L223.0 334.6L222.5 333.5L222.0 332.9L221.5 332.3L221.0 332.5L220.5 331.9L220.0 331.2L219.5 330.9L219.0 330.6L218.5 330.2L218.0 330.2L217.5 329.6L217.0 329.2L216.5 328.9L216.0 328.6L215.5 328.3L215.0 327.9L214.5 327.7L214.0 327.4L213.5 327.2L213.0 326.4L212.5 325.9L212.0 325.0L211.5 324.7L211.0 323.9L210.5 323.5L210.0 322.6L209.5 322.4L209.0 321.5L208.5 321.0L208.0 320.5L207.5 320.2L207.0 319.4L206.5 318.7L206.0 318.4L205.5 318.2L205.0 317.2L204.5 316.8L204.0 316.6L203.5 315.6L203.0 314.7L202.5 314.1L202.0 313.3L201.5 312.7L201.0 312.1L200.5 311.2L200.0 310.5L199.5 309.5L199.0 309.1L198.5 307.8L198.0 307.0L197.5 306.1L197.0 305.1L196.5 304.7L196.0 303.5L195.5 302.6L195.0 301.5L194.5 300.9L194.0 299.6L193.5 297.7L193.0 295.9L192.5 293.7L192.0 291.5L191.5 290.0L191.0 287.7L190.5 285.6L190.0 284.4Z" fill="#f6921e" stroke="#f6921e" stroke-width="0.4" stroke-linejoin="round"/>
<path d="M184.85 183L185.1 200L185.7 220L186.4 248.9L189.3 280.2L191.5 290" fill="none" stroke="#f6921e" stroke-width="1.05"/>
<defs><linearGradient id="gg" gradientUnits="userSpaceOnUse" x1="0" y1="124" x2="0" y2="200"><stop offset="0" stop-color="#62ba77"/><stop offset="0.6" stop-color="#4fb268"/><stop offset="1" stop-color="#1ea556"/></linearGradient></defs>
<path d="M185.00 123.30C185.00 129.42 184.95 150.55 185.00 160.00C185.05 169.45 185.18 175.00 185.30 180.00C185.42 185.00 185.53 187.33 185.70 190.00C185.87 192.67 186.07 194.33 186.30 196.00C186.53 197.67 186.78 198.83 187.10 200.00C187.42 201.17 187.83 202.17 188.20 203.00C188.57 203.83 188.78 204.33 189.30 205.00C189.82 205.67 190.53 206.40 191.30 207.00C192.07 207.60 192.78 208.10 193.90 208.60C195.02 209.10 196.37 209.57 198.00 210.00C199.63 210.43 201.37 210.82 203.70 211.20C206.03 211.58 209.12 211.98 212.00 212.30C214.88 212.62 216.33 212.82 221.00 213.10C225.67 213.38 230.17 213.62 240.00 214.00C249.83 214.38 266.67 214.97 280.00 215.40C293.33 215.83 308.33 216.27 320.00 216.60C331.67 216.93 336.67 217.20 350.00 217.40C363.33 217.60 381.67 217.70 400.00 217.80C418.33 217.90 440.37 217.98 460.00 218.00C479.63 218.02 508.17 217.92 517.80 217.90" fill="none" stroke="url(#gg)" stroke-width="1.3" stroke-linejoin="round"/>
<path d="M200.0 209.6L200.6 210.2L201.2 210.4L201.8 210.5L202.4 210.6L203.0 210.6L203.6 210.5L204.2 210.9L204.8 211.0L205.4 211.0L206.0 210.9L206.6 211.2L207.2 211.2L207.8 211.3L208.4 211.4L209.0 211.6L209.6 211.6L210.2 211.7L210.8 211.7L211.4 211.7L212.0 211.9L212.6 211.7L213.2 212.0L213.8 212.1L214.4 211.9L215.0 212.1L215.6 212.1L216.2 212.3L216.8 212.0L217.4 212.3L218.0 212.4L218.6 212.4L219.2 212.2L219.8 212.6L220.4 212.7L221.0 212.6L221.6 212.6L222.2 212.8L222.8 212.6L223.4 212.7L224.0 212.7L224.6 212.5L225.2 212.9L225.8 212.8L226.4 212.7L227.0 212.8L227.6 212.7L228.2 213.0L228.8 213.0L229.4 213.0L230.0 213.0L230.6 213.0L231.2 213.0L231.8 213.1L232.4 212.9L233.0 213.1L233.6 213.1L234.2 213.1L234.8 213.2L235.4 213.2L236.0 213.0L236.6 213.1L237.2 213.4L237.8 213.4L238.4 213.1L239.0 213.3L239.6 213.3L240.2 213.5L240.8 213.3L241.4 213.5L242.0 213.4L242.6 213.5L243.2 213.5L243.8 213.5L244.4 213.6L245.0 213.7L245.6 213.5L246.2 213.7L246.8 213.7L247.4 213.5L248.0 213.3L248.6 213.8L249.2 213.7L249.8 213.8L250.4 213.9L251.0 213.9L251.6 213.9L252.2 213.5L252.8 213.9L253.4 213.9L254.0 213.9L254.6 214.0L255.2 213.9L255.8 213.8L256.4 214.0L257.0 214.1L257.6 214.2L258.2 214.1L258.8 213.9L259.4 214.0L260.0 214.2L260.6 213.8L261.2 214.2L261.8 213.8L262.4 214.2L263.0 214.3L263.6 214.2L264.2 214.1L264.8 214.4L265.4 214.0L266.0 214.3L266.6 214.1L267.2 214.1L267.8 214.5L268.4 214.3L269.0 214.4L269.6 214.5L270.2 214.1L270.8 214.5L271.4 214.1L272.0 214.5L272.6 214.6L273.2 214.4L273.8 214.6L274.4 214.5L275.0 214.7L275.6 214.6L276.2 214.7L276.8 214.6L277.4 214.7L278.0 214.6L278.6 214.8L279.2 214.9L279.8 214.8L280.4 214.7L281.0 214.8L281.6 214.8L282.2 214.8L282.8 215.0L283.4 214.9L284.0 215.0L284.6 214.7L285.2 214.7L285.8 214.9L286.4 215.0L287.0 214.7L287.6 215.1L288.2 215.0L288.8 214.8L289.4 215.1L290.0 215.1L290.6 215.1L291.2 215.0L291.8 215.1L292.4 215.1L293.0 215.1L293.6 215.3L294.2 215.2L294.8 215.0L295.4 215.1L296.0 215.3L296.6 215.2L297.2 215.3L297.8 215.3L298.4 215.1L299.0 215.5L299.6 215.3L300.2 215.4L300.8 215.4L301.4 215.3L302.0 215.2L302.6 215.6L303.2 215.1L303.8 215.4L304.4 215.5L305.0 215.6L305.6 215.3L306.2 215.6L306.8 215.6L307.4 215.6L308.0 215.7L308.6 215.6L309.2 215.7L309.8 215.7L310.4 215.8L311.0 215.8L311.6 215.8L312.2 215.8L312.8 215.9L313.4 215.9L314.0 215.7L314.6 215.7L315.2 215.9L315.8 215.6L316.4 215.9L317.0 215.6L317.6 216.0L318.2 216.1L318.8 215.8L319.4 215.5L320.0 215.7L320.6 216.0L321.2 216.0L321.8 216.1L322.4 216.1L323.0 216.1L323.6 216.2L324.2 216.2L324.8 216.2L325.4 216.1L326.0 216.1L326.6 216.2L327.2 216.2L327.8 216.2L328.4 215.9L329.0 216.2L329.6 216.3L330.2 215.9L330.8 216.1L331.4 216.2L332.0 216.4L332.6 216.3L333.2 216.2L333.8 216.4L334.4 216.1L335.0 216.5L335.6 216.2L336.2 216.3L336.8 216.5L337.4 216.5L338.0 216.4L338.6 216.5L339.2 216.5L339.8 216.6L340.4 216.5L341.0 216.5L341.6 216.2L342.2 216.6L342.8 216.4L343.4 216.7L344.0 216.4L344.6 216.5L345.2 216.5L345.8 216.6L346.4 216.4L347.0 216.5L347.6 216.6L348.2 216.8L348.8 216.8L349.4 216.8L350.0 216.8L350.6 216.8L351.2 216.3L351.8 216.9L352.4 216.7L353.0 216.7L353.6 216.8L354.2 216.9L354.8 216.9L355.4 216.9L356.0 216.9L356.6 216.7L357.2 216.7L357.8 216.8L358.4 216.7L359.0 216.7L359.6 216.5L360.2 216.9L360.8 216.8L361.4 216.5L362.0 217.0L362.6 216.9L363.2 216.8L363.8 216.5L364.4 216.9L365.0 216.6L365.6 216.9L366.2 216.9L366.8 216.8L367.4 216.7L368.0 216.8L368.6 216.9L369.2 217.0L369.8 217.0L370.4 217.0L371.0 217.0L371.6 216.8L372.2 217.0L372.8 217.0L373.4 216.6L374.0 216.7L374.6 216.6L375.2 216.8L375.8 217.0L376.4 216.6L377.0 217.1L377.6 216.7L378.2 216.8L378.8 216.9L379.4 216.5L380.0 217.1L380.6 217.0L381.2 216.7L381.8 216.7L382.4 216.8L383.0 216.7L383.6 216.9L384.2 217.1L384.8 216.5L385.4 216.9L386.0 217.1L386.6 217.1L387.2 217.1L387.8 217.1L388.4 216.5L389.0 216.9L389.6 217.0L390.2 216.9L390.8 216.9L391.4 217.0L392.0 217.1L392.6 217.1L393.2 217.1L393.8 216.8L394.4 217.2L395.0 217.2L395.6 216.9L396.2 217.0L396.8 217.1L397.4 217.2L398.0 217.0L398.6 216.8L399.2 217.2L399.8 216.9L400.4 216.5L401.0 216.6L401.6 217.1L402.2 216.9L402.8 217.0L403.4 217.0L404.0 216.9L404.6 216.9L405.2 217.0L405.8 217.1L406.4 217.0L407.0 216.9L407.6 217.3L408.2 216.7L408.8 216.9L409.4 217.2L410.0 217.1L410.6 216.9L411.2 217.1L411.8 216.7L412.4 217.1L413.0 217.2L413.6 216.7L414.2 216.5L414.8 217.1L415.4 217.2L416.0 217.2L416.6 217.3L417.2 216.9L417.8 217.2L418.4 216.7L419.0 216.9L419.6 217.3L420.2 217.0L420.8 217.0L421.4 217.0L422.0 217.2L422.6 217.3L423.2 216.9L423.8 217.3L424.4 217.1L425.0 217.1L425.6 217.2L426.2 217.2L426.8 217.1L427.4 216.6L428.0 217.1L428.6 216.9L429.2 216.9L429.8 217.1L430.4 216.8L431.0 216.9L431.6 217.3L432.2 217.1L432.8 217.3L433.4 216.9L434.0 217.3L434.6 216.7L435.2 217.1L435.8 217.2L436.4 217.2L437.0 217.0L437.6 217.1L438.2 217.3L438.8 217.0L439.4 217.2L440.0 217.1L440.6 216.9L441.2 217.3L441.8 217.1L442.4 217.2L443.0 217.1L443.6 217.0L444.2 216.9L444.8 217.0L445.4 217.3L446.0 217.4L446.6 217.2L447.2 217.1L447.8 217.1L448.4 217.1L449.0 216.9L449.6 217.2L450.2 217.1L450.8 217.4L451.4 217.3L452.0 217.2L452.6 217.2L453.2 217.3L453.8 217.4L454.4 217.1L455.0 216.9L455.6 217.1L456.2 217.3L456.8 217.0L457.4 217.3L458.0 217.4L458.6 217.2L459.2 216.9L459.8 217.4L460.4 217.4L461.0 217.4L461.6 217.4L462.2 217.1L462.8 217.1L463.4 217.2L464.0 216.9L464.6 217.3L465.2 217.4L465.8 217.4L466.4 217.0L467.0 217.2L467.6 217.3L468.2 217.4L468.8 217.2L469.4 216.8L470.0 217.2L470.6 217.4L471.2 216.9L471.8 217.3L472.4 217.4L473.0 217.3L473.6 217.3L474.2 217.4L474.8 216.8L475.4 217.3L476.0 216.9L476.6 217.1L477.2 217.0L477.8 217.1L478.4 217.2L479.0 217.3L479.6 217.4L480.2 217.1L480.8 217.3L481.4 217.3L482.0 216.7L482.6 217.2L483.2 217.0L483.8 217.3L484.4 217.3L485.0 217.1L485.6 217.4L486.2 216.9L486.8 217.2L487.4 216.9L488.0 217.4L488.6 216.9L489.2 217.2L489.8 216.9L490.4 217.2L491.0 217.3L491.6 217.3L492.2 217.3L492.8 217.2L493.4 217.2L494.0 217.0L494.6 217.2L495.2 216.9L495.8 217.2L496.4 217.3L497.0 216.9L497.6 217.1L498.2 216.7L498.8 217.3L499.4 217.2L500.0 216.7L500.6 217.2L501.2 217.2L501.8 217.0L502.4 216.5L503.0 217.2L503.6 217.2L504.2 217.2L504.8 217.0L505.4 217.3L506.0 217.1L506.6 216.7L507.2 217.3L507.8 217.3L508.4 217.3L509.0 216.9L509.6 217.0L510.2 217.2L510.8 217.0L511.4 217.3L512.0 216.9L512.6 217.0L513.2 217.0L513.8 217.2L514.4 217.3L515.0 217.1L515.6 217.0L516.2 217.1L516.8 217.3L517.4 217.3L517.4 218.5L516.8 218.5L516.2 218.8L515.6 218.6L515.0 218.8L514.4 218.7L513.8 218.5L513.2 218.8L512.6 219.1L512.0 219.2L511.4 218.6L510.8 218.8L510.2 218.6L509.6 218.6L509.0 218.8L508.4 218.6L507.8 218.9L507.2 218.9L506.6 218.5L506.0 219.1L505.4 218.6L504.8 218.9L504.2 218.9L503.6 218.7L503.0 218.8L502.4 219.0L501.8 218.7L501.2 219.0L500.6 218.9L500.0 218.8L499.4 219.0L498.8 218.6L498.2 218.9L497.6 218.7L497.0 219.1L496.4 218.7L495.8 218.7L495.2 218.8L494.6 218.6L494.0 218.7L493.4 218.7L492.8 218.8L492.2 218.6L491.6 218.5L491.0 218.7L490.4 218.9L489.8 219.0L489.2 218.8L488.6 218.6L488.0 218.9L487.4 218.7L486.8 218.7L486.2 218.6L485.6 218.7L485.0 218.5L484.4 218.6L483.8 219.0L483.2 218.7L482.6 219.1L482.0 218.7L481.4 218.8L480.8 218.8L480.2 218.9L479.6 218.7L479.0 218.8L478.4 218.7L477.8 219.2L477.2 218.9L476.6 218.7L476.0 219.0L475.4 218.6L474.8 218.8L474.2 218.7L473.6 218.7L473.0 218.8L472.4 218.9L471.8 218.8L471.2 218.8L470.6 218.6L470.0 218.8L469.4 218.7L468.8 218.9L468.2 219.0L467.6 218.8L467.0 218.9L466.4 218.7L465.8 218.8L465.2 219.1L464.6 218.9L464.0 218.9L463.4 218.8L462.8 218.6L462.2 219.0L461.6 218.6L461.0 218.9L460.4 218.8L459.8 218.9L459.2 219.1L458.6 218.8L458.0 218.8L457.4 218.6L456.8 218.6L456.2 218.6L455.6 218.7L455.0 218.7L454.4 218.9L453.8 219.0L453.2 218.9L452.6 219.0L452.0 218.9L451.4 218.6L450.8 218.6L450.2 218.6L449.6 219.1L449.0 218.8L448.4 218.6L447.8 218.7L447.2 218.6L446.6 218.7L446.0 218.6L445.4 218.6L444.8 218.8L444.2 218.9L443.6 218.7L443.0 218.9L442.4 218.7L441.8 219.0L441.2 218.7L440.6 219.0L440.0 218.6L439.4 218.9L438.8 218.6L438.2 218.5L437.6 218.6L437.0 218.7L436.4 218.8L435.8 218.8L435.2 218.5L434.6 218.9L434.0 218.5L433.4 219.1L432.8 218.7L432.2 218.7L431.6 218.8L431.0 218.7L430.4 218.6L429.8 219.2L429.2 218.8L428.6 219.0L428.0 218.7L427.4 218.6L426.8 218.5L426.2 218.5L425.6 218.9L425.0 218.5L424.4 218.5L423.8 219.0L423.2 219.3L422.6 218.5L422.0 219.0L421.4 218.6L420.8 218.7L420.2 218.7L419.6 218.5L419.0 218.6L418.4 218.7L417.8 218.7L417.2 218.5L416.6 218.7L416.0 218.4L415.4 218.8L414.8 218.8L414.2 218.6L413.6 218.7L413.0 218.8L412.4 218.4L411.8 218.9L411.2 218.9L410.6 218.9L410.0 218.4L409.4 218.4L408.8 218.7L408.2 218.6L407.6 218.4L407.0 218.4L406.4 218.8L405.8 218.6L405.2 218.5L404.6 218.8L404.0 218.5L403.4 218.4L402.8 218.6L402.2 218.5L401.6 218.8L401.0 218.5L400.4 218.6L399.8 218.5L399.2 218.7L398.6 218.7L398.0 218.5L397.4 218.4L396.8 218.6L396.2 218.4L395.6 218.6L395.0 218.5L394.4 218.4L393.8 218.6L393.2 218.4L392.6 218.5L392.0 218.6L391.4 218.7L390.8 218.3L390.2 218.5L389.6 218.4L389.0 218.3L388.4 218.5L387.8 218.2L387.2 218.3L386.6 218.2L386.0 218.4L385.4 218.2L384.8 218.5L384.2 218.5L383.6 218.3L383.0 218.2L382.4 218.4L381.8 218.2L381.2 218.6L380.6 218.4L380.0 218.3L379.4 218.8L378.8 218.5L378.2 218.4L377.6 218.2L377.0 218.6L376.4 218.3L375.8 218.4L375.2 218.2L374.6 218.2L374.0 218.2L373.4 218.1L372.8 218.2L372.2 218.5L371.6 218.4L371.0 218.3L370.4 218.4L369.8 218.3L369.2 218.2L368.6 218.1L368.0 218.6L367.4 218.1L366.8 218.5L366.2 218.1L365.6 218.3L365.0 218.1L364.4 218.2L363.8 218.1L363.2 218.1L362.6 218.3L362.0 218.0L361.4 218.4L360.8 218.1L360.2 218.2L359.6 218.5L359.0 218.3L358.4 218.0L357.8 218.1L357.2 218.2L356.6 218.1L356.0 218.1L355.4 218.0L354.8 218.3L354.2 218.2L353.6 218.3L353.0 218.0L352.4 218.2L351.8 218.0L351.2 218.1L350.6 218.1L350.0 218.0L349.4 218.0L348.8 218.0L348.2 217.9L347.6 217.9L347.0 218.2L346.4 218.1L345.8 217.9L345.2 217.9L344.6 217.9L344.0 218.0L343.4 218.0L342.8 218.0L342.2 217.9L341.6 218.1L341.0 217.9L340.4 217.7L339.8 217.6L339.2 217.7L338.6 217.7L338.0 218.0L337.4 217.8L336.8 218.2L336.2 217.5L335.6 217.6L335.0 218.1L334.4 217.6L333.8 217.5L333.2 217.5L332.6 217.7L332.0 217.9L331.4 217.6L330.8 217.5L330.2 217.5L329.6 217.5L329.0 217.8L328.4 217.5L327.8 217.5L327.2 217.4L326.6 217.6L326.0 217.4L325.4 217.3L324.8 217.3L324.2 217.4L323.6 217.2L323.0 217.5L322.4 217.3L321.8 217.2L321.2 217.3L320.6 217.3L320.0 217.3L319.4 217.1L318.8 217.2L318.2 217.1L317.6 217.1L317.0 217.4L316.4 217.2L315.8 217.0L315.2 217.3L314.6 217.1L314.0 217.0L313.4 217.0L312.8 217.2L312.2 216.9L311.6 217.1L311.0 217.0L310.4 216.8L309.8 216.8L309.2 217.0L308.6 217.0L308.0 217.0L307.4 217.2L306.8 216.9L306.2 216.9L305.6 217.0L305.0 216.7L304.4 217.1L303.8 216.6L303.2 216.8L302.6 216.9L302.0 216.8L301.4 216.5L300.8 216.7L300.2 216.7L299.6 216.8L299.0 217.0L298.4 216.7L297.8 216.5L297.2 216.7L296.6 216.5L296.0 216.6L295.4 216.4L294.8 216.3L294.2 216.3L293.6 216.4L293.0 216.4L292.4 216.7L291.8 216.4L291.2 216.3L290.6 216.4L290.0 216.2L289.4 216.5L288.8 216.2L288.2 216.2L287.6 216.5L287.0 216.3L286.4 216.1L285.8 216.2L285.2 216.5L284.6 216.4L284.0 216.2L283.4 216.0L282.8 216.4L282.2 216.0L281.6 216.1L281.0 216.2L280.4 216.1L279.8 215.9L279.2 216.0L278.6 215.9L278.0 215.9L277.4 216.0L276.8 215.8L276.2 215.9L275.6 215.8L275.0 216.2L274.4 215.8L273.8 215.8L273.2 216.0L272.6 215.8L272.0 215.6L271.4 215.7L270.8 215.8L270.2 215.8L269.6 215.5L269.0 215.9L268.4 215.7L267.8 215.7L267.2 215.5L266.6 215.5L266.0 215.4L265.4 215.6L264.8 215.6L264.2 215.6L263.6 215.4L263.0 215.3L262.4 215.7L261.8 215.2L261.2 215.2L260.6 215.4L260.0 215.3L259.4 215.4L258.8 215.1L258.2 215.2L257.6 215.5L257.0 215.2L256.4 215.4L255.8 215.2L255.2 215.0L254.6 215.2L254.0 215.3L253.4 214.9L252.8 215.2L252.2 214.9L251.6 215.2L251.0 214.9L250.4 215.0L249.8 215.0L249.2 214.9L248.6 214.9L248.0 214.9L247.4 214.9L246.8 214.7L246.2 214.7L245.6 214.7L245.0 214.6L244.4 214.8L243.8 214.9L243.2 214.8L242.6 214.6L242.0 214.6L241.4 214.8L240.8 214.6L240.2 214.7L239.6 214.5L239.0 214.4L238.4 214.6L237.8 214.5L237.2 214.6L236.6 214.4L236.0 214.3L235.4 214.3L234.8 214.3L234.2 214.2L233.6 214.3L233.0 214.4L232.4 214.1L231.8 214.1L231.2 214.2L230.6 214.1L230.0 214.2L229.4 214.0L228.8 214.1L228.2 213.9L227.6 214.1L227.0 213.8L226.4 214.0L225.8 213.8L225.2 213.9L224.6 213.7L224.0 213.7L223.4 213.9L222.8 213.7L222.2 213.6L221.6 213.6L221.0 213.6L220.4 213.6L219.8 213.4L219.2 213.3L218.6 213.4L218.0 213.3L217.4 213.3L216.8 213.2L216.2 213.2L215.6 213.1L215.0 213.0L214.4 212.9L213.8 213.0L213.2 212.8L212.6 212.8L212.0 212.6L211.4 212.7L210.8 212.6L210.2 212.6L209.6 212.6L209.0 212.4L208.4 212.2L207.8 212.2L207.2 212.0L206.6 212.0L206.0 212.0L205.4 211.8L204.8 211.6L204.2 211.8L203.6 211.6L203.0 211.4L202.4 211.3L201.8 211.1L201.2 211.0L200.6 211.0L200.0 210.7Z" fill="#1ea556"/>
<path d="M185.20 144.80L186.00 145.80L190.00 146.30L230.00 147.00L280.00 147.90L327.80 148.80" fill="none" stroke="#8a7335" stroke-width="1.2"/>
<path d="M185 134.4H280.4" fill="none" stroke="#3d3d9e" stroke-width="1.2"/>
<path d="M185 124H280.4" fill="none" stroke="#f58d95" stroke-width="1.8"/>
<path d="M137.30 500.49h5.20M660.40 500.49h-5.20M137.30 496.02h5.20M660.40 496.02h-5.20M137.30 492.08h5.20M660.40 492.08h-5.20M137.30 488.55h9.50M660.40 488.55h-9.50M137.30 465.35h5.20M660.40 465.35h-5.20M137.30 451.77h5.20M660.40 451.77h-5.20M137.30 442.14h5.20M660.40 442.14h-5.20M137.30 434.67h5.20M660.40 434.67h-5.20M137.30 428.57h5.20M660.40 428.57h-5.20M137.30 423.41h5.20M660.40 423.41h-5.20M137.30 418.94h5.20M660.40 418.94h-5.20M137.30 415.00h5.20M660.40 415.00h-5.20M137.30 411.47h9.50M660.40 411.47h-9.50M137.30 388.27h5.20M660.40 388.27h-5.20M137.30 374.69h5.20M660.40 374.69h-5.20M137.30 365.06h5.20M660.40 365.06h-5.20M137.30 357.59h5.20M660.40 357.59h-5.20M137.30 351.49h5.20M660.40 351.49h-5.20M137.30 346.33h5.20M660.40 346.33h-5.20M137.30 341.86h5.20M660.40 341.86h-5.20M137.30 337.92h5.20M660.40 337.92h-5.20M137.30 334.39h9.50M660.40 334.39h-9.50M137.30 311.19h5.20M660.40 311.19h-5.20M137.30 297.61h5.20M660.40 297.61h-5.20M137.30 287.98h5.20M660.40 287.98h-5.20M137.30 280.51h5.20M660.40 280.51h-5.20M137.30 274.41h5.20M660.40 274.41h-5.20M137.30 269.25h5.20M660.40 269.25h-5.20M137.30 264.78h5.20M660.40 264.78h-5.20M137.30 260.84h5.20M660.40 260.84h-5.20M137.30 257.31h9.50M660.40 257.31h-9.50M137.30 234.11h5.20M660.40 234.11h-5.20M137.30 220.53h5.20M660.40 220.53h-5.20M137.30 210.90h5.20M660.40 210.90h-5.20M137.30 203.43h5.20M660.40 203.43h-5.20M137.30 197.33h5.20M660.40 197.33h-5.20M137.30 192.17h5.20M660.40 192.17h-5.20M137.30 187.70h5.20M660.40 187.70h-5.20M137.30 183.76h5.20M660.40 183.76h-5.20M137.30 180.23h9.50M660.40 180.23h-9.50M137.30 157.03h5.20M660.40 157.03h-5.20M137.30 143.45h5.20M660.40 143.45h-5.20M137.30 133.82h5.20M660.40 133.82h-5.20M137.30 126.35h5.20M660.40 126.35h-5.20M137.30 120.25h5.20M660.40 120.25h-5.20M137.30 115.09h5.20M660.40 115.09h-5.20M137.30 110.62h5.20M660.40 110.62h-5.20M137.30 106.68h5.20M660.40 106.68h-5.20M137.30 103.15h9.50M660.40 103.15h-9.50M137.30 79.95h5.20M660.40 79.95h-5.20M184.85 500.40v-9.00M184.85 79.80v9.00M279.96 500.40v-5.20M279.96 79.80v5.20M375.07 500.40v-9.00M375.07 79.80v9.00M470.18 500.40v-5.20M470.18 79.80v5.20M565.29 500.40v-9.00M565.29 79.80v9.00" fill="none" stroke="#231f20" stroke-width="1.85"/>
<rect x="137.30" y="79.80" width="523.10" height="420.60" fill="none" stroke="#231f20" stroke-width="2.1"/>
<text x="119.2" y="497.5" font-size="23.3" text-anchor="end">0</text>
<path d="M102.35 481.15L100.65 481.15C100.15 482.65 98.30 483.95 95.80 484.00L95.80 486.10L99.90 486.10L99.90 497.45L102.35 497.45Z" fill="#231f20"/>
<text x="120.3" y="484.9" font-size="14.2">2</text>
<text x="119.2" y="420.5" font-size="23.3" text-anchor="end">0</text>
<path d="M102.35 404.07L100.65 404.07C100.15 405.57 98.30 406.87 95.80 406.92L95.80 409.02L99.90 409.02L99.90 420.37L102.35 420.37Z" fill="#231f20"/>
<text x="120.3" y="407.9" font-size="14.2">3</text>
<text x="119.2" y="343.4" font-size="23.3" text-anchor="end">0</text>
<path d="M102.35 326.99L100.65 326.99C100.15 328.49 98.30 329.79 95.80 329.84L95.80 331.94L99.90 331.94L99.90 343.29L102.35 343.29Z" fill="#231f20"/>
<text x="120.3" y="330.8" font-size="14.2">4</text>
<text x="119.2" y="266.3" font-size="23.3" text-anchor="end">0</text>
<path d="M102.35 249.91L100.65 249.91C100.15 251.41 98.30 252.71 95.80 252.76L95.80 254.86L99.90 254.86L99.90 266.21L102.35 266.21Z" fill="#231f20"/>
<text x="120.3" y="253.7" font-size="14.2">5</text>
<text x="119.2" y="189.2" font-size="23.3" text-anchor="end">0</text>
<path d="M102.35 172.83L100.65 172.83C100.15 174.33 98.30 175.63 95.80 175.68L95.80 177.78L99.90 177.78L99.90 189.13L102.35 189.13Z" fill="#231f20"/>
<text x="120.3" y="176.6" font-size="14.2">6</text>
<text x="119.2" y="112.2" font-size="23.3" text-anchor="end">0</text>
<path d="M102.35 95.75L100.65 95.75C100.15 97.25 98.30 98.55 95.80 98.60L95.80 100.70L99.90 100.70L99.90 112.05L102.35 112.05Z" fill="#231f20"/>
<text x="120.3" y="99.6" font-size="14.2">7</text>
<text x="184.5" y="528.9" font-size="23.3" text-anchor="middle">0.0</text>
<text x="334.7" y="532.8" font-size="23.3" textLength="44.4" lengthAdjust="spacing">4.0x</text>
<path d="M385.57 516.50L383.87 516.50C383.37 518.00 381.52 519.30 379.02 519.35L379.02 521.45L383.12 521.45L383.12 532.80L385.57 532.80Z" fill="#231f20"/>
<text x="390.3" y="532.8" font-size="23.3">0</text>
<text x="406.6" y="520.2" font-size="13.6">3</text>
<text x="524.9" y="532.8" font-size="23.3" textLength="44.4" lengthAdjust="spacing">8.0x</text>
<path d="M575.79 516.50L574.09 516.50C573.59 518.00 571.74 519.30 569.24 519.35L569.24 521.45L573.34 521.45L573.34 532.80L575.79 532.80Z" fill="#231f20"/>
<text x="580.5" y="532.8" font-size="23.3">0</text>
<text x="596.8" y="520.2" font-size="13.6">3</text>
<text class="ns" x="396.9" y="581.2" font-size="32.2" text-anchor="middle">Time</text>
<g class="ns" transform="translate(64.8 329.7) rotate(-90)"><text x="0" y="0" font-size="33">L</text><text x="18.6" y="15.2" font-size="19.5">T</text></g>
<g class="sm">
<defs><linearGradient id="gk" gradientUnits="userSpaceOnUse" x1="0" y1="117" x2="0" y2="196"><stop offset="0" stop-color="#8c8c8c"/><stop offset="0.6" stop-color="#6a6a6a"/><stop offset="1" stop-color="#2b2b2b"/></linearGradient><linearGradient id="gr2" gradientUnits="userSpaceOnUse" x1="0" y1="160" x2="0" y2="202"><stop offset="0" stop-color="#f6a0a6"/><stop offset="0.6" stop-color="#f27c84"/><stop offset="1" stop-color="#ee3640"/></linearGradient></defs>
<path d="M443.40 117.10C443.43 120.08 443.53 130.18 443.60 135.00C443.68 139.82 443.72 142.33 443.85 146.00C443.98 149.67 444.16 153.38 444.40 157.00C444.64 160.62 444.97 164.78 445.30 167.70C445.63 170.62 446.00 172.53 446.40 174.50C446.80 176.47 447.17 177.87 447.70 179.50C448.23 181.13 448.87 182.82 449.60 184.30C450.33 185.78 451.12 187.22 452.10 188.40C453.08 189.58 454.27 190.52 455.50 191.40C456.73 192.28 457.75 192.98 459.50 193.70C461.25 194.42 463.55 195.12 466.00 195.70C468.45 196.28 470.38 196.65 474.20 197.20C478.02 197.75 481.53 198.42 488.90 199.00C496.27 199.58 508.58 200.17 518.40 200.70C528.22 201.23 537.98 201.70 547.80 202.20C557.62 202.70 567.48 203.25 577.30 203.70C587.12 204.15 596.27 204.47 606.70 204.90C617.13 205.33 634.37 206.07 639.90 206.30" fill="none" stroke="url(#gk)" stroke-width="0.9"/>
<path d="M442.4 269.4V160.4" fill="none" stroke="#f7a6ab" stroke-width="0.9"/>
<path d="M442.40 160.40C442.45 161.67 442.55 165.30 442.70 168.00C442.85 170.70 443.10 174.02 443.30 176.60C443.50 179.18 443.67 181.53 443.90 183.50C444.13 185.47 444.35 187.02 444.70 188.40C445.05 189.78 445.50 190.82 446.00 191.80C446.50 192.78 446.98 193.47 447.70 194.30C448.42 195.13 449.32 196.07 450.30 196.80C451.28 197.53 452.23 198.10 453.60 198.70C454.97 199.30 456.55 199.92 458.50 200.40C460.45 200.88 462.55 201.20 465.30 201.60C468.05 202.00 471.07 202.45 475.00 202.80C478.93 203.15 481.67 203.45 488.90 203.70C496.13 203.95 506.13 204.15 518.40 204.30C530.67 204.45 547.78 204.50 562.50 204.60C577.22 204.70 593.80 204.85 606.70 204.90C619.60 204.95 634.37 204.90 639.90 204.90" fill="none" stroke="url(#gr2)" stroke-width="0.9"/>
<path d="M442.50 278.70v-4.00M442.50 101.30v4.00M475.48 278.70v-2.40M475.48 101.30v2.40M508.47 278.70v-4.00M508.47 101.30v4.00M541.45 278.70v-2.40M541.45 101.30v2.40M574.43 278.70v-4.00M574.43 101.30v4.00M607.42 278.70v-2.40M607.42 101.30v2.40M640.40 278.70v-4.00M640.40 101.30v4.00M435.90 269.45h4.00M640.60 269.45h-4.00M435.90 250.73h2.40M640.60 250.73h-2.40M435.90 232.01h4.00M640.60 232.01h-4.00M435.90 213.29h2.40M640.60 213.29h-2.40M435.90 194.57h4.00M640.60 194.57h-4.00M435.90 175.86h2.40M640.60 175.86h-2.40M435.90 157.14h4.00M640.60 157.14h-4.00M435.90 138.42h2.40M640.60 138.42h-2.40M435.90 119.70h4.00M640.60 119.70h-4.00" fill="none" stroke="#4a4a4a" stroke-width="0.9"/>
<rect x="435.90" y="101.30" width="204.70" height="177.40" fill="none" stroke="#666666" stroke-width="1.25"/>
<text transform="translate(429.60 237.51) scale(1 1.080)" font-size="13.7" text-anchor="end">2.0x10</text>
<text x="427.7" y="230.2" font-size="8.6">5</text>
<text transform="translate(429.60 200.07) scale(1 1.080)" font-size="13.7" text-anchor="end">4.0x10</text>
<text x="427.7" y="192.8" font-size="8.6">5</text>
<text transform="translate(429.60 162.64) scale(1 1.080)" font-size="13.7" text-anchor="end">6.0x10</text>
<text x="427.7" y="155.3" font-size="8.6">5</text>
<text transform="translate(429.60 125.20) scale(1 1.080)" font-size="13.7" text-anchor="end">8.0x10</text>
<text x="427.7" y="117.9" font-size="8.6">5</text>
<text transform="translate(433.60 272.90) scale(1 1.080)" font-size="13.6" text-anchor="end">0.0</text>
<text transform="translate(443.50 294.30) scale(1 1.080)" font-size="13.6" text-anchor="middle">0</text>
<text transform="translate(509.47 294.30) scale(1 1.080)" font-size="13.6" text-anchor="middle">1000</text>
<text transform="translate(575.43 294.30) scale(1 1.080)" font-size="13.6" text-anchor="middle">2000</text>
<text transform="translate(641.40 294.30) scale(1 1.080)" font-size="13.6" text-anchor="middle">3000</text>
<text x="539.2" y="317.2" font-size="13.8" text-anchor="middle">Time</text>
<g transform="translate(377.4 206.3) rotate(-90)"><text x="0" y="0" font-size="14.2">L</text><text x="7.4" y="6.2" font-size="8.7">T</text></g>
<rect x="544.2" y="117.35" width="72.7" height="31.0" fill="#ffffff" stroke="#3a3a3a" stroke-width="0.9"/>
<text x="581.5" y="138.9" font-size="17.9" text-anchor="middle">Mu=0.3</text>
</g>
</svg></body></html>
